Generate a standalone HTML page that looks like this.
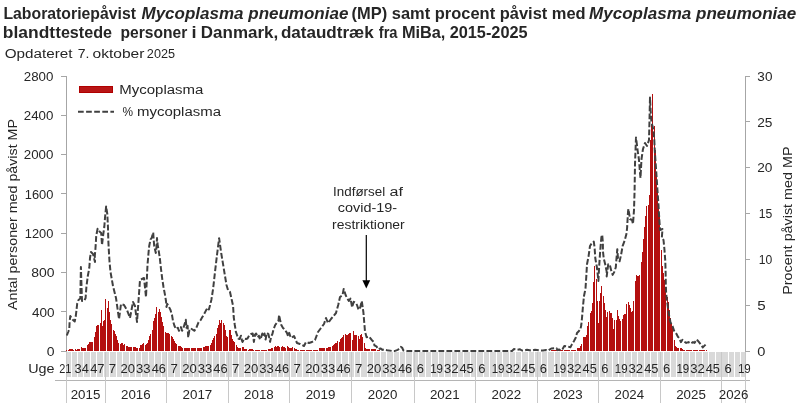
<!DOCTYPE html><html><head><meta charset="utf-8"><title>Mycoplasma pneumoniae</title><style>
html,body{margin:0;padding:0;background:#fff;width:805px;height:410px;overflow:hidden}
svg{display:block}
text{font-family:"Liberation Sans", sans-serif;fill:#262626}
</style></head><body>
<svg width="805" height="410" viewBox="0 0 805 410">
<text x="3.44" y="18.80" font-size="16.5" font-weight="bold" textLength="132.55" lengthAdjust="spacingAndGlyphs">Laboratoriepåvist</text>
<text x="141.50" y="18.80" font-size="16.5" font-weight="bold" font-style="italic" textLength="206.87" lengthAdjust="spacingAndGlyphs">Mycoplasma pneumoniae</text>
<text x="351.58" y="18.80" font-size="16.5" font-weight="bold" textLength="234.10" lengthAdjust="spacingAndGlyphs">(MP) samt procent påvist med</text>
<text x="589.10" y="18.80" font-size="16.5" font-weight="bold" font-style="italic" textLength="207.17" lengthAdjust="spacingAndGlyphs">Mycoplasma pneumoniae</text>
<text x="2.85" y="38.40" font-size="16.5" font-weight="bold" textLength="52.26" lengthAdjust="spacingAndGlyphs">blandt</text>
<text x="55.50" y="38.40" font-size="16.5" font-weight="bold" textLength="56.55" lengthAdjust="spacingAndGlyphs">testede</text>
<text x="120.47" y="38.40" font-size="16.5" font-weight="bold" textLength="66.76" lengthAdjust="spacingAndGlyphs">personer</text>
<text x="191.43" y="38.40" font-size="16.5" font-weight="bold" textLength="5.06" lengthAdjust="spacingAndGlyphs">i</text>
<text x="200.87" y="38.40" font-size="16.5" font-weight="bold" textLength="77.27" lengthAdjust="spacingAndGlyphs">Danmark,</text>
<text x="280.90" y="38.40" font-size="16.5" font-weight="bold" textLength="92.88" lengthAdjust="spacingAndGlyphs">dataudtræk</text>
<text x="378.75" y="38.40" font-size="16.5" font-weight="bold" textLength="18.76" lengthAdjust="spacingAndGlyphs">fra</text>
<text x="401.91" y="38.40" font-size="16.5" font-weight="bold" textLength="43.48" lengthAdjust="spacingAndGlyphs">MiBa,</text>
<text x="449.63" y="38.40" font-size="16.5" font-weight="bold" textLength="78.02" lengthAdjust="spacingAndGlyphs">2015-2025</text>
<text x="4.78" y="57.70" font-size="12" textLength="67.73" lengthAdjust="spacingAndGlyphs">Opdateret</text>
<text x="77.78" y="57.70" font-size="12" textLength="11.70" lengthAdjust="spacingAndGlyphs">7.</text>
<text x="92.55" y="57.70" font-size="12" textLength="51.91" lengthAdjust="spacingAndGlyphs">oktober</text>
<text x="146.86" y="57.70" font-size="12" textLength="28.17" lengthAdjust="spacingAndGlyphs">2025</text>
<g shape-rendering="crispEdges">
<rect x="66" y="76" width="1" height="276" fill="#a6a6a6"/>
<rect x="745" y="76" width="1" height="276" fill="#a6a6a6"/>
<rect x="61" y="76" width="5" height="1" fill="#a6a6a6"/>
<rect x="61" y="115" width="5" height="1" fill="#a6a6a6"/>
<rect x="61" y="154" width="5" height="1" fill="#a6a6a6"/>
<rect x="61" y="193" width="5" height="1" fill="#a6a6a6"/>
<rect x="61" y="233" width="5" height="1" fill="#a6a6a6"/>
<rect x="61" y="272" width="5" height="1" fill="#a6a6a6"/>
<rect x="61" y="311" width="5" height="1" fill="#a6a6a6"/>
<rect x="61" y="351" width="5" height="1" fill="#a6a6a6"/>
<rect x="746" y="76" width="4" height="1" fill="#a6a6a6"/>
<rect x="746" y="121" width="4" height="1" fill="#a6a6a6"/>
<rect x="746" y="167" width="4" height="1" fill="#a6a6a6"/>
<rect x="746" y="213" width="4" height="1" fill="#a6a6a6"/>
<rect x="746" y="259" width="4" height="1" fill="#a6a6a6"/>
<rect x="746" y="305" width="4" height="1" fill="#a6a6a6"/>
<rect x="746" y="351" width="4" height="1" fill="#a6a6a6"/>
</g>
<text x="23.83" y="80.80" font-size="12" textLength="29.59" lengthAdjust="spacingAndGlyphs">2800</text>
<text x="23.83" y="120.09" font-size="12" textLength="29.59" lengthAdjust="spacingAndGlyphs">2400</text>
<text x="23.83" y="159.37" font-size="12" textLength="29.59" lengthAdjust="spacingAndGlyphs">2000</text>
<text x="24.82" y="198.66" font-size="12" textLength="28.58" lengthAdjust="spacingAndGlyphs">1600</text>
<text x="24.82" y="237.94" font-size="12" textLength="28.58" lengthAdjust="spacingAndGlyphs">1200</text>
<text x="31.29" y="277.23" font-size="12" textLength="23.25" lengthAdjust="spacingAndGlyphs">800</text>
<text x="31.99" y="316.51" font-size="12" textLength="22.54" lengthAdjust="spacingAndGlyphs">400</text>
<text x="46.65" y="355.80" font-size="12" textLength="7.79" lengthAdjust="spacingAndGlyphs">0</text>
<text x="757.38" y="80.80" font-size="12" textLength="15.04" lengthAdjust="spacingAndGlyphs">30</text>
<text x="757.21" y="126.63" font-size="12" textLength="15.27" lengthAdjust="spacingAndGlyphs">25</text>
<text x="757.21" y="172.47" font-size="12" textLength="15.22" lengthAdjust="spacingAndGlyphs">20</text>
<text x="758.87" y="218.30" font-size="12" textLength="13.54" lengthAdjust="spacingAndGlyphs">15</text>
<text x="758.88" y="264.13" font-size="12" textLength="13.50" lengthAdjust="spacingAndGlyphs">10</text>
<text x="757.29" y="309.97" font-size="12" textLength="8.45" lengthAdjust="spacingAndGlyphs">5</text>
<text x="757.33" y="355.80" font-size="12" textLength="8.14" lengthAdjust="spacingAndGlyphs">0</text>
<text transform="translate(16.90,309.90) rotate(-90)" x="-0.03" y="0" font-size="12.5" textLength="190.88" lengthAdjust="spacingAndGlyphs">Antal personer med påvist MP</text>
<text transform="translate(791.80,293.60) rotate(-90)" x="-1.18" y="0" font-size="12.5" textLength="148.23" lengthAdjust="spacingAndGlyphs">Procent påvist med MP</text>
<g fill="#b40f0f" shape-rendering="crispEdges">
<rect x="66" y="350.39" width="1" height="0.61"/>
<rect x="68" y="349.85" width="1" height="1.15"/>
<rect x="69" y="349.43" width="1" height="1.57"/>
<rect x="70" y="349.30" width="1" height="1.70"/>
<rect x="71" y="349.30" width="1" height="1.70"/>
<rect x="72" y="349.30" width="1" height="1.70"/>
<rect x="73" y="350.00" width="1" height="1.00"/>
<rect x="75" y="349.42" width="1" height="1.58"/>
<rect x="76" y="349.50" width="1" height="1.50"/>
<rect x="77" y="348.59" width="1" height="2.41"/>
<rect x="78" y="348.50" width="1" height="2.50"/>
<rect x="79" y="348.50" width="1" height="2.50"/>
<rect x="81" y="346.83" width="1" height="4.17"/>
<rect x="82" y="348.10" width="1" height="2.90"/>
<rect x="83" y="348.10" width="1" height="2.90"/>
<rect x="84" y="348.10" width="1" height="2.90"/>
<rect x="85" y="348.10" width="1" height="2.90"/>
<rect x="87" y="344.75" width="1" height="6.25"/>
<rect x="88" y="344.25" width="1" height="6.75"/>
<rect x="89" y="341.66" width="1" height="9.34"/>
<rect x="90" y="342.37" width="1" height="8.63"/>
<rect x="91" y="342.05" width="1" height="8.95"/>
<rect x="92" y="341.50" width="1" height="9.50"/>
<rect x="94" y="337.48" width="1" height="13.52"/>
<rect x="95" y="331.71" width="1" height="19.29"/>
<rect x="96" y="325.57" width="1" height="25.43"/>
<rect x="97" y="325.10" width="1" height="25.90"/>
<rect x="98" y="325.10" width="1" height="25.90"/>
<rect x="100" y="323.35" width="1" height="27.65"/>
<rect x="101" y="310.30" width="1" height="40.70"/>
<rect x="102" y="326.30" width="1" height="24.70"/>
<rect x="103" y="321.40" width="1" height="29.60"/>
<rect x="104" y="320.00" width="1" height="31.00"/>
<rect x="105" y="298.50" width="1" height="52.50"/>
<rect x="107" y="307.57" width="1" height="43.43"/>
<rect x="108" y="301.30" width="1" height="49.70"/>
<rect x="109" y="311.90" width="1" height="39.10"/>
<rect x="110" y="319.53" width="1" height="31.47"/>
<rect x="111" y="324.20" width="1" height="26.80"/>
<rect x="113" y="330.16" width="1" height="20.84"/>
<rect x="114" y="331.18" width="1" height="19.82"/>
<rect x="115" y="334.00" width="1" height="17.00"/>
<rect x="116" y="336.18" width="1" height="14.82"/>
<rect x="117" y="339.90" width="1" height="11.10"/>
<rect x="118" y="343.00" width="1" height="8.00"/>
<rect x="120" y="344.05" width="1" height="6.95"/>
<rect x="121" y="342.76" width="1" height="8.24"/>
<rect x="122" y="343.43" width="1" height="7.57"/>
<rect x="123" y="344.70" width="1" height="6.30"/>
<rect x="124" y="343.95" width="1" height="7.05"/>
<rect x="126" y="346.42" width="1" height="4.58"/>
<rect x="127" y="346.35" width="1" height="4.65"/>
<rect x="128" y="346.53" width="1" height="4.47"/>
<rect x="129" y="347.00" width="1" height="4.00"/>
<rect x="130" y="347.00" width="1" height="4.00"/>
<rect x="131" y="346.80" width="1" height="4.20"/>
<rect x="133" y="346.57" width="1" height="4.43"/>
<rect x="134" y="346.99" width="1" height="4.01"/>
<rect x="135" y="347.48" width="1" height="3.52"/>
<rect x="136" y="348.41" width="1" height="2.59"/>
<rect x="137" y="348.18" width="1" height="2.82"/>
<rect x="139" y="347.72" width="1" height="3.28"/>
<rect x="140" y="345.49" width="1" height="5.51"/>
<rect x="141" y="344.77" width="1" height="6.23"/>
<rect x="142" y="344.14" width="1" height="6.86"/>
<rect x="143" y="343.00" width="1" height="8.00"/>
<rect x="145" y="344.73" width="1" height="6.27"/>
<rect x="146" y="344.30" width="1" height="6.70"/>
<rect x="147" y="343.25" width="1" height="7.75"/>
<rect x="148" y="340.26" width="1" height="10.74"/>
<rect x="149" y="336.47" width="1" height="14.53"/>
<rect x="150" y="334.11" width="1" height="16.89"/>
<rect x="152" y="329.92" width="1" height="21.08"/>
<rect x="153" y="320.64" width="1" height="30.36"/>
<rect x="154" y="317.85" width="1" height="33.15"/>
<rect x="155" y="313.67" width="1" height="37.33"/>
<rect x="156" y="307.33" width="1" height="43.67"/>
<rect x="158" y="311.72" width="1" height="39.28"/>
<rect x="159" y="308.90" width="1" height="42.10"/>
<rect x="160" y="312.28" width="1" height="38.72"/>
<rect x="161" y="316.96" width="1" height="34.04"/>
<rect x="162" y="322.20" width="1" height="28.80"/>
<rect x="163" y="326.07" width="1" height="24.93"/>
<rect x="165" y="331.70" width="1" height="19.30"/>
<rect x="166" y="332.57" width="1" height="18.43"/>
<rect x="167" y="333.00" width="1" height="18.00"/>
<rect x="168" y="333.00" width="1" height="18.00"/>
<rect x="169" y="333.62" width="1" height="17.38"/>
<rect x="171" y="335.97" width="1" height="15.03"/>
<rect x="172" y="337.37" width="1" height="13.63"/>
<rect x="173" y="339.06" width="1" height="11.94"/>
<rect x="174" y="341.00" width="1" height="10.00"/>
<rect x="175" y="343.00" width="1" height="8.00"/>
<rect x="176" y="344.45" width="1" height="6.55"/>
<rect x="178" y="346.11" width="1" height="4.89"/>
<rect x="179" y="346.35" width="1" height="4.65"/>
<rect x="180" y="346.45" width="1" height="4.55"/>
<rect x="181" y="347.25" width="1" height="3.75"/>
<rect x="182" y="348.01" width="1" height="2.99"/>
<rect x="184" y="348.07" width="1" height="2.93"/>
<rect x="185" y="348.10" width="1" height="2.90"/>
<rect x="186" y="348.12" width="1" height="2.88"/>
<rect x="187" y="348.15" width="1" height="2.85"/>
<rect x="188" y="348.18" width="1" height="2.82"/>
<rect x="189" y="348.21" width="1" height="2.79"/>
<rect x="191" y="348.26" width="1" height="2.74"/>
<rect x="192" y="348.29" width="1" height="2.71"/>
<rect x="193" y="348.32" width="1" height="2.68"/>
<rect x="194" y="348.35" width="1" height="2.65"/>
<rect x="195" y="348.38" width="1" height="2.62"/>
<rect x="197" y="348.43" width="1" height="2.57"/>
<rect x="198" y="348.46" width="1" height="2.54"/>
<rect x="199" y="348.49" width="1" height="2.51"/>
<rect x="200" y="348.38" width="1" height="2.62"/>
<rect x="201" y="348.12" width="1" height="2.88"/>
<rect x="203" y="347.40" width="1" height="3.60"/>
<rect x="204" y="346.73" width="1" height="4.27"/>
<rect x="205" y="346.30" width="1" height="4.70"/>
<rect x="206" y="346.10" width="1" height="4.90"/>
<rect x="207" y="345.90" width="1" height="5.10"/>
<rect x="208" y="345.97" width="1" height="5.03"/>
<rect x="210" y="344.67" width="1" height="6.33"/>
<rect x="211" y="342.71" width="1" height="8.29"/>
<rect x="212" y="340.30" width="1" height="10.70"/>
<rect x="213" y="338.02" width="1" height="12.98"/>
<rect x="214" y="336.10" width="1" height="14.90"/>
<rect x="216" y="334.44" width="1" height="16.56"/>
<rect x="217" y="328.19" width="1" height="22.81"/>
<rect x="218" y="324.88" width="1" height="26.12"/>
<rect x="219" y="319.70" width="1" height="31.30"/>
<rect x="220" y="323.30" width="1" height="27.70"/>
<rect x="221" y="319.82" width="1" height="31.18"/>
<rect x="223" y="323.28" width="1" height="27.72"/>
<rect x="224" y="325.01" width="1" height="25.99"/>
<rect x="225" y="330.44" width="1" height="20.56"/>
<rect x="226" y="335.66" width="1" height="15.34"/>
<rect x="227" y="337.10" width="1" height="13.90"/>
<rect x="229" y="330.00" width="1" height="21.00"/>
<rect x="230" y="330.00" width="1" height="21.00"/>
<rect x="231" y="334.60" width="1" height="16.40"/>
<rect x="232" y="338.98" width="1" height="12.02"/>
<rect x="233" y="341.29" width="1" height="9.71"/>
<rect x="234" y="342.46" width="1" height="8.54"/>
<rect x="236" y="344.77" width="1" height="6.23"/>
<rect x="237" y="346.76" width="1" height="4.24"/>
<rect x="238" y="347.80" width="1" height="3.20"/>
<rect x="239" y="347.80" width="1" height="3.20"/>
<rect x="240" y="347.80" width="1" height="3.20"/>
<rect x="242" y="346.80" width="1" height="4.20"/>
<rect x="243" y="346.80" width="1" height="4.20"/>
<rect x="244" y="349.30" width="1" height="1.70"/>
<rect x="245" y="349.30" width="1" height="1.70"/>
<rect x="246" y="349.30" width="1" height="1.70"/>
<rect x="248" y="350.00" width="1" height="1.00"/>
<rect x="249" y="349.30" width="1" height="1.70"/>
<rect x="250" y="349.30" width="1" height="1.70"/>
<rect x="251" y="349.30" width="1" height="1.70"/>
<rect x="252" y="349.30" width="1" height="1.70"/>
<rect x="253" y="349.53" width="1" height="1.47"/>
<rect x="255" y="349.80" width="1" height="1.20"/>
<rect x="256" y="349.80" width="1" height="1.20"/>
<rect x="257" y="349.80" width="1" height="1.20"/>
<rect x="258" y="349.80" width="1" height="1.20"/>
<rect x="259" y="350.00" width="1" height="1.00"/>
<rect x="261" y="349.80" width="1" height="1.20"/>
<rect x="262" y="349.80" width="1" height="1.20"/>
<rect x="263" y="349.80" width="1" height="1.20"/>
<rect x="264" y="349.80" width="1" height="1.20"/>
<rect x="265" y="349.80" width="1" height="1.20"/>
<rect x="266" y="349.68" width="1" height="1.32"/>
<rect x="268" y="349.23" width="1" height="1.77"/>
<rect x="269" y="349.07" width="1" height="1.93"/>
<rect x="270" y="348.75" width="1" height="2.25"/>
<rect x="271" y="348.36" width="1" height="2.64"/>
<rect x="272" y="348.08" width="1" height="2.92"/>
<rect x="274" y="347.05" width="1" height="3.95"/>
<rect x="275" y="346.30" width="1" height="4.70"/>
<rect x="276" y="346.63" width="1" height="4.37"/>
<rect x="277" y="345.80" width="1" height="5.20"/>
<rect x="278" y="346.15" width="1" height="4.85"/>
<rect x="279" y="347.32" width="1" height="3.68"/>
<rect x="281" y="346.63" width="1" height="4.37"/>
<rect x="282" y="346.30" width="1" height="4.70"/>
<rect x="283" y="346.77" width="1" height="4.23"/>
<rect x="284" y="347.20" width="1" height="3.80"/>
<rect x="285" y="347.60" width="1" height="3.40"/>
<rect x="287" y="346.30" width="1" height="4.70"/>
<rect x="288" y="347.30" width="1" height="3.70"/>
<rect x="289" y="347.93" width="1" height="3.07"/>
<rect x="290" y="348.20" width="1" height="2.80"/>
<rect x="291" y="347.64" width="1" height="3.36"/>
<rect x="292" y="347.08" width="1" height="3.92"/>
<rect x="294" y="347.80" width="1" height="3.20"/>
<rect x="295" y="348.60" width="1" height="2.40"/>
<rect x="296" y="349.20" width="1" height="1.80"/>
<rect x="297" y="349.60" width="1" height="1.40"/>
<rect x="298" y="349.80" width="1" height="1.20"/>
<rect x="300" y="349.80" width="1" height="1.20"/>
<rect x="301" y="349.80" width="1" height="1.20"/>
<rect x="302" y="349.80" width="1" height="1.20"/>
<rect x="303" y="349.80" width="1" height="1.20"/>
<rect x="304" y="349.80" width="1" height="1.20"/>
<rect x="306" y="349.78" width="1" height="1.22"/>
<rect x="307" y="349.76" width="1" height="1.24"/>
<rect x="308" y="349.75" width="1" height="1.25"/>
<rect x="309" y="349.73" width="1" height="1.27"/>
<rect x="310" y="349.72" width="1" height="1.28"/>
<rect x="311" y="349.70" width="1" height="1.30"/>
<rect x="313" y="349.67" width="1" height="1.33"/>
<rect x="314" y="349.65" width="1" height="1.35"/>
<rect x="315" y="349.64" width="1" height="1.36"/>
<rect x="316" y="349.62" width="1" height="1.38"/>
<rect x="317" y="349.61" width="1" height="1.39"/>
<rect x="319" y="348.38" width="1" height="2.62"/>
<rect x="320" y="348.34" width="1" height="2.66"/>
<rect x="321" y="348.29" width="1" height="2.71"/>
<rect x="322" y="348.25" width="1" height="2.75"/>
<rect x="323" y="348.21" width="1" height="2.79"/>
<rect x="324" y="348.16" width="1" height="2.84"/>
<rect x="326" y="348.10" width="1" height="2.90"/>
<rect x="327" y="348.10" width="1" height="2.90"/>
<rect x="328" y="347.00" width="1" height="4.00"/>
<rect x="329" y="347.00" width="1" height="4.00"/>
<rect x="330" y="347.00" width="1" height="4.00"/>
<rect x="332" y="346.35" width="1" height="4.65"/>
<rect x="333" y="345.20" width="1" height="5.80"/>
<rect x="334" y="343.80" width="1" height="7.20"/>
<rect x="335" y="343.00" width="1" height="8.00"/>
<rect x="336" y="343.00" width="1" height="8.00"/>
<rect x="337" y="341.10" width="1" height="9.90"/>
<rect x="339" y="342.25" width="1" height="8.75"/>
<rect x="340" y="339.46" width="1" height="11.54"/>
<rect x="341" y="338.39" width="1" height="12.61"/>
<rect x="342" y="336.83" width="1" height="14.17"/>
<rect x="343" y="335.44" width="1" height="15.56"/>
<rect x="345" y="334.10" width="1" height="16.90"/>
<rect x="346" y="334.80" width="1" height="16.20"/>
<rect x="347" y="334.55" width="1" height="16.45"/>
<rect x="348" y="333.76" width="1" height="17.24"/>
<rect x="349" y="333.30" width="1" height="17.70"/>
<rect x="350" y="333.30" width="1" height="17.70"/>
<rect x="352" y="340.23" width="1" height="10.77"/>
<rect x="353" y="330.62" width="1" height="20.38"/>
<rect x="354" y="334.80" width="1" height="16.20"/>
<rect x="355" y="334.80" width="1" height="16.20"/>
<rect x="356" y="334.80" width="1" height="16.20"/>
<rect x="358" y="335.59" width="1" height="15.41"/>
<rect x="359" y="338.71" width="1" height="12.29"/>
<rect x="360" y="335.03" width="1" height="15.97"/>
<rect x="361" y="334.38" width="1" height="16.62"/>
<rect x="362" y="336.67" width="1" height="14.33"/>
<rect x="364" y="342.62" width="1" height="8.38"/>
<rect x="365" y="347.59" width="1" height="3.41"/>
<rect x="366" y="348.87" width="1" height="2.13"/>
<rect x="367" y="349.30" width="1" height="1.70"/>
<rect x="368" y="349.30" width="1" height="1.70"/>
<rect x="369" y="349.30" width="1" height="1.70"/>
<rect x="371" y="349.23" width="1" height="1.77"/>
<rect x="372" y="349.24" width="1" height="1.76"/>
<rect x="373" y="349.31" width="1" height="1.69"/>
<rect x="374" y="349.39" width="1" height="1.61"/>
<rect x="375" y="349.46" width="1" height="1.54"/>
<rect x="377" y="349.91" width="1" height="1.09"/>
<rect x="378" y="350.19" width="1" height="0.81"/>
<rect x="379" y="350.46" width="1" height="0.54"/>
<rect x="380" y="350.60" width="1" height="0.40"/>
<rect x="381" y="350.60" width="1" height="0.40"/>
<rect x="382" y="350.60" width="1" height="0.40"/>
<rect x="384" y="350.60" width="1" height="0.40"/>
<rect x="385" y="350.60" width="1" height="0.40"/>
<rect x="386" y="350.60" width="1" height="0.40"/>
<rect x="387" y="350.60" width="1" height="0.40"/>
<rect x="388" y="350.60" width="1" height="0.40"/>
<rect x="390" y="350.60" width="1" height="0.40"/>
<rect x="391" y="350.60" width="1" height="0.40"/>
<rect x="392" y="350.60" width="1" height="0.40"/>
<rect x="393" y="350.60" width="1" height="0.40"/>
<rect x="394" y="350.60" width="1" height="0.40"/>
<rect x="395" y="350.60" width="1" height="0.40"/>
<rect x="397" y="350.60" width="1" height="0.40"/>
<rect x="398" y="350.60" width="1" height="0.40"/>
<rect x="399" y="350.60" width="1" height="0.40"/>
<rect x="400" y="350.60" width="1" height="0.40"/>
<rect x="401" y="350.60" width="1" height="0.40"/>
<rect x="403" y="350.60" width="1" height="0.40"/>
<rect x="404" y="350.60" width="1" height="0.40"/>
<rect x="405" y="350.60" width="1" height="0.40"/>
<rect x="406" y="350.60" width="1" height="0.40"/>
<rect x="407" y="350.60" width="1" height="0.40"/>
<rect x="408" y="350.60" width="1" height="0.40"/>
<rect x="410" y="350.60" width="1" height="0.40"/>
<rect x="411" y="350.60" width="1" height="0.40"/>
<rect x="412" y="350.60" width="1" height="0.40"/>
<rect x="413" y="350.60" width="1" height="0.40"/>
<rect x="414" y="350.60" width="1" height="0.40"/>
<rect x="416" y="350.60" width="1" height="0.40"/>
<rect x="417" y="350.60" width="1" height="0.40"/>
<rect x="418" y="350.60" width="1" height="0.40"/>
<rect x="419" y="350.60" width="1" height="0.40"/>
<rect x="420" y="350.60" width="1" height="0.40"/>
<rect x="422" y="350.60" width="1" height="0.40"/>
<rect x="423" y="350.60" width="1" height="0.40"/>
<rect x="424" y="350.60" width="1" height="0.40"/>
<rect x="425" y="350.60" width="1" height="0.40"/>
<rect x="426" y="350.60" width="1" height="0.40"/>
<rect x="427" y="350.60" width="1" height="0.40"/>
<rect x="429" y="350.60" width="1" height="0.40"/>
<rect x="430" y="350.60" width="1" height="0.40"/>
<rect x="431" y="350.60" width="1" height="0.40"/>
<rect x="432" y="350.60" width="1" height="0.40"/>
<rect x="433" y="350.60" width="1" height="0.40"/>
<rect x="435" y="350.60" width="1" height="0.40"/>
<rect x="436" y="350.60" width="1" height="0.40"/>
<rect x="437" y="350.60" width="1" height="0.40"/>
<rect x="438" y="350.60" width="1" height="0.40"/>
<rect x="439" y="350.60" width="1" height="0.40"/>
<rect x="440" y="350.60" width="1" height="0.40"/>
<rect x="442" y="350.60" width="1" height="0.40"/>
<rect x="443" y="350.60" width="1" height="0.40"/>
<rect x="444" y="350.60" width="1" height="0.40"/>
<rect x="445" y="350.60" width="1" height="0.40"/>
<rect x="446" y="350.60" width="1" height="0.40"/>
<rect x="448" y="350.60" width="1" height="0.40"/>
<rect x="449" y="350.60" width="1" height="0.40"/>
<rect x="450" y="350.60" width="1" height="0.40"/>
<rect x="451" y="350.60" width="1" height="0.40"/>
<rect x="452" y="350.60" width="1" height="0.40"/>
<rect x="453" y="350.60" width="1" height="0.40"/>
<rect x="455" y="350.60" width="1" height="0.40"/>
<rect x="456" y="350.60" width="1" height="0.40"/>
<rect x="457" y="350.60" width="1" height="0.40"/>
<rect x="458" y="350.60" width="1" height="0.40"/>
<rect x="459" y="350.60" width="1" height="0.40"/>
<rect x="461" y="350.60" width="1" height="0.40"/>
<rect x="462" y="350.60" width="1" height="0.40"/>
<rect x="463" y="350.60" width="1" height="0.40"/>
<rect x="464" y="350.60" width="1" height="0.40"/>
<rect x="465" y="350.60" width="1" height="0.40"/>
<rect x="467" y="350.60" width="1" height="0.40"/>
<rect x="468" y="350.60" width="1" height="0.40"/>
<rect x="469" y="350.60" width="1" height="0.40"/>
<rect x="470" y="350.60" width="1" height="0.40"/>
<rect x="471" y="350.60" width="1" height="0.40"/>
<rect x="472" y="350.60" width="1" height="0.40"/>
<rect x="474" y="350.60" width="1" height="0.40"/>
<rect x="475" y="350.60" width="1" height="0.40"/>
<rect x="476" y="350.60" width="1" height="0.40"/>
<rect x="477" y="350.60" width="1" height="0.40"/>
<rect x="478" y="350.60" width="1" height="0.40"/>
<rect x="480" y="350.60" width="1" height="0.40"/>
<rect x="481" y="350.60" width="1" height="0.40"/>
<rect x="482" y="350.60" width="1" height="0.40"/>
<rect x="483" y="350.60" width="1" height="0.40"/>
<rect x="484" y="350.60" width="1" height="0.40"/>
<rect x="485" y="350.60" width="1" height="0.40"/>
<rect x="487" y="350.60" width="1" height="0.40"/>
<rect x="488" y="350.60" width="1" height="0.40"/>
<rect x="489" y="350.60" width="1" height="0.40"/>
<rect x="490" y="350.60" width="1" height="0.40"/>
<rect x="491" y="350.60" width="1" height="0.40"/>
<rect x="493" y="350.60" width="1" height="0.40"/>
<rect x="494" y="350.60" width="1" height="0.40"/>
<rect x="495" y="350.60" width="1" height="0.40"/>
<rect x="496" y="350.60" width="1" height="0.40"/>
<rect x="497" y="350.60" width="1" height="0.40"/>
<rect x="498" y="350.60" width="1" height="0.40"/>
<rect x="500" y="350.60" width="1" height="0.40"/>
<rect x="501" y="350.60" width="1" height="0.40"/>
<rect x="502" y="350.60" width="1" height="0.40"/>
<rect x="503" y="350.60" width="1" height="0.40"/>
<rect x="504" y="350.60" width="1" height="0.40"/>
<rect x="506" y="350.60" width="1" height="0.40"/>
<rect x="507" y="350.60" width="1" height="0.40"/>
<rect x="508" y="350.60" width="1" height="0.40"/>
<rect x="509" y="350.60" width="1" height="0.40"/>
<rect x="510" y="350.60" width="1" height="0.40"/>
<rect x="511" y="350.60" width="1" height="0.40"/>
<rect x="513" y="350.60" width="1" height="0.40"/>
<rect x="514" y="350.60" width="1" height="0.40"/>
<rect x="515" y="350.60" width="1" height="0.40"/>
<rect x="516" y="350.60" width="1" height="0.40"/>
<rect x="517" y="350.60" width="1" height="0.40"/>
<rect x="519" y="350.60" width="1" height="0.40"/>
<rect x="520" y="350.60" width="1" height="0.40"/>
<rect x="521" y="350.60" width="1" height="0.40"/>
<rect x="522" y="350.60" width="1" height="0.40"/>
<rect x="523" y="350.60" width="1" height="0.40"/>
<rect x="525" y="350.60" width="1" height="0.40"/>
<rect x="526" y="350.60" width="1" height="0.40"/>
<rect x="527" y="350.60" width="1" height="0.40"/>
<rect x="528" y="350.60" width="1" height="0.40"/>
<rect x="529" y="350.60" width="1" height="0.40"/>
<rect x="530" y="350.60" width="1" height="0.40"/>
<rect x="532" y="350.60" width="1" height="0.40"/>
<rect x="533" y="350.60" width="1" height="0.40"/>
<rect x="534" y="350.60" width="1" height="0.40"/>
<rect x="535" y="350.60" width="1" height="0.40"/>
<rect x="536" y="350.60" width="1" height="0.40"/>
<rect x="538" y="350.60" width="1" height="0.40"/>
<rect x="539" y="350.60" width="1" height="0.40"/>
<rect x="540" y="350.60" width="1" height="0.40"/>
<rect x="541" y="350.60" width="1" height="0.40"/>
<rect x="542" y="350.60" width="1" height="0.40"/>
<rect x="543" y="350.60" width="1" height="0.40"/>
<rect x="545" y="350.60" width="1" height="0.40"/>
<rect x="546" y="350.60" width="1" height="0.40"/>
<rect x="547" y="350.60" width="1" height="0.40"/>
<rect x="548" y="350.60" width="1" height="0.40"/>
<rect x="549" y="350.60" width="1" height="0.40"/>
<rect x="551" y="349.80" width="1" height="1.20"/>
<rect x="552" y="349.80" width="1" height="1.20"/>
<rect x="553" y="349.80" width="1" height="1.20"/>
<rect x="554" y="349.80" width="1" height="1.20"/>
<rect x="555" y="349.80" width="1" height="1.20"/>
<rect x="556" y="349.80" width="1" height="1.20"/>
<rect x="558" y="349.80" width="1" height="1.20"/>
<rect x="559" y="349.80" width="1" height="1.20"/>
<rect x="560" y="349.82" width="1" height="1.18"/>
<rect x="561" y="349.88" width="1" height="1.12"/>
<rect x="562" y="349.93" width="1" height="1.07"/>
<rect x="564" y="350.00" width="1" height="1.00"/>
<rect x="565" y="350.00" width="1" height="1.00"/>
<rect x="566" y="350.00" width="1" height="1.00"/>
<rect x="567" y="350.00" width="1" height="1.00"/>
<rect x="568" y="350.00" width="1" height="1.00"/>
<rect x="569" y="350.00" width="1" height="1.00"/>
<rect x="571" y="350.00" width="1" height="1.00"/>
<rect x="572" y="350.00" width="1" height="1.00"/>
<rect x="573" y="350.00" width="1" height="1.00"/>
<rect x="574" y="350.00" width="1" height="1.00"/>
<rect x="575" y="350.00" width="1" height="1.00"/>
<rect x="577" y="347.70" width="1" height="3.30"/>
<rect x="578" y="347.70" width="1" height="3.30"/>
<rect x="579" y="347.70" width="1" height="3.30"/>
<rect x="580" y="345.51" width="1" height="5.49"/>
<rect x="581" y="344.08" width="1" height="6.92"/>
<rect x="583" y="337.20" width="1" height="13.80"/>
<rect x="584" y="337.20" width="1" height="13.80"/>
<rect x="585" y="337.20" width="1" height="13.80"/>
<rect x="586" y="335.00" width="1" height="16.00"/>
<rect x="587" y="326.33" width="1" height="24.67"/>
<rect x="588" y="322.00" width="1" height="29.00"/>
<rect x="590" y="313.00" width="1" height="38.00"/>
<rect x="591" y="310.50" width="1" height="40.50"/>
<rect x="592" y="303.00" width="1" height="48.00"/>
<rect x="593" y="282.00" width="1" height="69.00"/>
<rect x="594" y="266.00" width="1" height="85.00"/>
<rect x="596" y="279.23" width="1" height="71.77"/>
<rect x="597" y="300.80" width="1" height="50.20"/>
<rect x="598" y="323.00" width="1" height="28.00"/>
<rect x="599" y="300.50" width="1" height="50.50"/>
<rect x="600" y="293.25" width="1" height="57.75"/>
<rect x="601" y="286.00" width="1" height="65.00"/>
<rect x="603" y="296.05" width="1" height="54.95"/>
<rect x="604" y="302.74" width="1" height="48.26"/>
<rect x="605" y="310.08" width="1" height="40.92"/>
<rect x="606" y="316.82" width="1" height="34.18"/>
<rect x="607" y="311.80" width="1" height="39.20"/>
<rect x="609" y="311.00" width="1" height="40.00"/>
<rect x="610" y="313.16" width="1" height="37.84"/>
<rect x="611" y="312.75" width="1" height="38.25"/>
<rect x="612" y="317.50" width="1" height="33.50"/>
<rect x="613" y="328.70" width="1" height="22.30"/>
<rect x="614" y="320.03" width="1" height="30.97"/>
<rect x="616" y="319.79" width="1" height="31.21"/>
<rect x="617" y="310.20" width="1" height="40.80"/>
<rect x="618" y="315.53" width="1" height="35.47"/>
<rect x="619" y="318.79" width="1" height="32.21"/>
<rect x="620" y="320.54" width="1" height="30.46"/>
<rect x="622" y="319.17" width="1" height="31.83"/>
<rect x="623" y="314.57" width="1" height="36.43"/>
<rect x="624" y="314.17" width="1" height="36.83"/>
<rect x="625" y="314.25" width="1" height="36.75"/>
<rect x="626" y="304.10" width="1" height="46.90"/>
<rect x="628" y="302.00" width="1" height="49.00"/>
<rect x="629" y="305.09" width="1" height="45.91"/>
<rect x="630" y="308.40" width="1" height="42.60"/>
<rect x="631" y="312.42" width="1" height="38.58"/>
<rect x="632" y="311.00" width="1" height="40.00"/>
<rect x="633" y="301.40" width="1" height="49.60"/>
<rect x="635" y="280.50" width="1" height="70.50"/>
<rect x="636" y="274.50" width="1" height="76.50"/>
<rect x="637" y="275.50" width="1" height="75.50"/>
<rect x="638" y="275.50" width="1" height="75.50"/>
<rect x="639" y="274.50" width="1" height="76.50"/>
<rect x="641" y="262.00" width="1" height="89.00"/>
<rect x="642" y="251.50" width="1" height="99.50"/>
<rect x="643" y="238.50" width="1" height="112.50"/>
<rect x="644" y="226.80" width="1" height="124.20"/>
<rect x="645" y="216.40" width="1" height="134.60"/>
<rect x="646" y="206.00" width="1" height="145.00"/>
<rect x="648" y="205.00" width="1" height="146.00"/>
<rect x="649" y="195.00" width="1" height="156.00"/>
<rect x="650" y="140.00" width="1" height="211.00"/>
<rect x="651" y="125.00" width="1" height="226.00"/>
<rect x="652" y="94.00" width="1" height="257.00"/>
<rect x="654" y="126.00" width="1" height="225.00"/>
<rect x="655" y="150.00" width="1" height="201.00"/>
<rect x="656" y="172.00" width="1" height="179.00"/>
<rect x="657" y="190.00" width="1" height="161.00"/>
<rect x="658" y="205.00" width="1" height="146.00"/>
<rect x="659" y="215.00" width="1" height="136.00"/>
<rect x="661" y="250.00" width="1" height="101.00"/>
<rect x="662" y="266.00" width="1" height="85.00"/>
<rect x="663" y="273.00" width="1" height="78.00"/>
<rect x="664" y="280.00" width="1" height="71.00"/>
<rect x="665" y="288.00" width="1" height="63.00"/>
<rect x="667" y="297.00" width="1" height="54.00"/>
<rect x="668" y="302.00" width="1" height="49.00"/>
<rect x="669" y="310.00" width="1" height="41.00"/>
<rect x="670" y="318.00" width="1" height="33.00"/>
<rect x="671" y="323.00" width="1" height="28.00"/>
<rect x="672" y="328.00" width="1" height="23.00"/>
<rect x="674" y="340.00" width="1" height="11.00"/>
<rect x="675" y="345.50" width="1" height="5.50"/>
<rect x="676" y="347.30" width="1" height="3.70"/>
<rect x="677" y="348.20" width="1" height="2.80"/>
<rect x="678" y="348.20" width="1" height="2.80"/>
<rect x="680" y="348.20" width="1" height="2.80"/>
<rect x="681" y="348.20" width="1" height="2.80"/>
<rect x="682" y="349.12" width="1" height="1.88"/>
<rect x="683" y="349.70" width="1" height="1.30"/>
<rect x="684" y="349.70" width="1" height="1.30"/>
<rect x="686" y="349.70" width="1" height="1.30"/>
<rect x="687" y="349.70" width="1" height="1.30"/>
<rect x="688" y="349.70" width="1" height="1.30"/>
<rect x="689" y="349.70" width="1" height="1.30"/>
<rect x="690" y="349.70" width="1" height="1.30"/>
<rect x="691" y="349.70" width="1" height="1.30"/>
<rect x="693" y="349.70" width="1" height="1.30"/>
<rect x="694" y="349.70" width="1" height="1.30"/>
<rect x="695" y="349.70" width="1" height="1.30"/>
<rect x="696" y="349.70" width="1" height="1.30"/>
<rect x="697" y="349.70" width="1" height="1.30"/>
<rect x="699" y="349.70" width="1" height="1.30"/>
<rect x="700" y="349.70" width="1" height="1.30"/>
<rect x="701" y="349.70" width="1" height="1.30"/>
<rect x="702" y="349.70" width="1" height="1.30"/>
<rect x="703" y="349.70" width="1" height="1.30"/>
<rect x="704" y="349.70" width="1" height="1.30"/>
<rect x="706" y="349.70" width="1" height="1.30"/>
</g>
<polyline points="66.8,335.5 68.2,332.0 69.3,329.0 69.6,322.0 70.3,316.0 72.5,319.5 74.7,321.5 75.8,316.0 76.5,310.0 77.2,303.5 78.5,300.0 80.3,298.5 80.9,267.0 82.0,301.0 84.2,301.0 85.6,298.0 86.4,287.0 87.8,276.0 89.3,268.0 90.0,258.0 91.0,252.0 93.0,254.0 95.0,262.0 94.8,256.0 95.5,248.0 96.0,240.0 96.2,236.0 97.6,228.7 99.5,231.5 101.2,233.0 102.0,245.0 103.3,234.0 104.3,227.0 105.0,218.0 106.1,206.5 107.3,214.0 108.0,228.0 108.3,240.0 108.8,250.0 109.5,261.5 110.5,272.0 113.0,286.0 116.0,298.0 119.0,319.0 121.0,304.0 124.0,305.0 127.0,310.0 130.0,318.0 133.0,302.0 135.0,306.0 137.0,322.0 139.0,294.0 140.0,280.0 144.0,278.0 146.0,297.0 147.5,265.0 148.6,252.0 149.2,246.0 150.5,239.5 151.6,238.0 153.2,232.5 153.7,240.0 154.2,246.0 155.8,253.0 156.5,247.0 157.0,238.0 157.5,244.0 158.6,250.0 159.8,258.0 161.0,269.0 162.4,280.0 163.5,287.0 165.2,296.0 166.0,301.0 166.5,307.0 167.3,304.0 168.5,306.0 170.5,310.0 172.0,315.0 173.0,321.0 174.5,326.0 176.0,329.0 177.8,327.7 179.0,330.8 180.9,327.1 182.1,330.8 183.9,326.5 185.8,319.8 186.4,327.7 187.6,325.9 188.2,337.5 189.4,330.1 190.6,328.3 192.5,329.5 194.3,330.8 196.1,328.3 197.3,325.3 198.6,322.2 200.4,320.4 202.2,317.3 204.0,314.3 205.9,310.6 207.7,307.6 208.9,309.4 210.1,305.1 211.4,299.7 212.3,294.0 213.2,288.0 215.0,272.0 217.0,255.0 219.1,238.2 221.2,253.0 223.3,265.7 225.0,276.0 226.5,285.0 228.0,290.0 230.0,292.0 233.1,306.0 233.7,317.0 234.8,325.0 235.9,331.8 237.0,335.0 238.2,338.5 239.5,339.0 241.0,335.7 242.0,340.8 242.6,341.9 244.3,338.5 246.0,339.0 247.5,338.5 249.4,335.1 251.0,334.0 252.7,333.5 253.9,341.9 255.0,334.6 256.1,333.5 257.8,337.4 258.9,335.7 260.0,339.6 261.1,337.4 262.3,333.5 263.4,336.3 264.5,333.5 265.6,339.6 266.8,332.9 268.4,334.0 270.1,341.9 271.2,336.3 272.4,334.0 273.5,329.5 275.2,325.0 276.8,322.8 278.5,320.6 279.1,315.0 280.2,320.6 281.3,325.0 283.0,327.9 284.7,329.5 286.9,332.9 288.1,336.3 289.2,332.9 290.3,336.3 291.4,338.0 294.0,336.0 297.0,343.0 300.0,344.0 304.0,346.0 306.0,342.0 309.0,343.0 312.0,342.0 315.0,340.0 318.0,332.0 321.0,328.0 324.0,324.0 326.0,318.0 328.0,323.0 331.0,319.0 333.5,316.0 336.0,313.0 338.4,304.2 340.0,297.0 342.5,295.3 343.7,288.9 345.7,295.3 347.3,298.5 348.9,301.0 350.5,298.5 352.1,307.4 353.7,301.8 355.4,302.6 357.0,305.0 358.6,309.8 360.2,307.4 361.8,301.0 363.4,312.3 364.2,322.0 365.0,331.6 366.6,337.3 369.0,336.5 371.5,339.7 373.9,342.1 374.4,345.4 376.4,346.4 378.4,349.4 380.4,348.4 382.4,349.9 384.4,349.4 387.0,350.2 391.8,350.9 395.0,350.9 397.8,349.9 400.8,346.9 402.3,347.9 403.3,350.4 406.8,350.9 512.0,350.9 514.0,349.0 517.0,349.8 520.0,349.3 522.0,350.5 525.0,350.2 527.0,349.8 531.0,350.5 535.0,349.8 539.0,350.3 543.0,350.5 546.0,350.0 548.0,350.5 551.3,348.5 556.5,348.2 557.4,350.2 559.0,349.5 560.9,350.5 562.6,349.0 564.3,346.0 567.8,346.5 570.4,347.2 571.8,344.6 574.0,341.0 575.7,337.7 577.0,333.0 579.0,331.0 580.5,329.0 581.3,325.0 582.0,318.0 583.0,306.0 584.0,296.0 585.5,288.5 586.3,276.4 587.0,264.3 588.5,256.7 590.0,246.0 592.3,242.4 593.8,241.6 594.6,247.7 595.3,258.3 596.9,267.3 597.6,273.4 598.4,281.0 599.1,267.3 599.9,255.2 600.6,246.2 601.4,237.0 602.2,234.8 602.9,243.1 602.9,250.7 603.7,258.3 605.2,264.3 606.7,271.9 606.7,276.4 608.2,264.3 609.7,264.3 611.2,270.4 612.7,274.9 614.3,271.9 615.8,267.3 616.5,258.3 617.3,249.2 618.0,258.3 619.6,261.3 621.0,255.2 622.6,246.2 624.8,240.1 626.4,234.0 627.1,228.0 628.0,212.0 628.4,209.0 630.0,219.0 632.0,220.0 633.0,224.0 634.0,210.0 634.6,190.0 635.0,164.0 636.0,137.5 637.7,151.0 639.0,160.0 640.0,173.0 640.5,178.0 641.5,159.0 643.0,149.0 645.0,143.0 647.0,146.0 649.0,140.0 649.5,120.0 650.0,97.5 650.6,110.0 651.4,122.0 652.8,127.0 653.6,132.0 654.3,140.0 654.8,151.0 655.7,164.0 656.6,177.0 657.5,191.0 658.5,205.0 659.2,217.5 660.0,230.0 662.5,229.0 661.8,238.0 663.5,240.0 664.4,249.0 665.3,261.0 665.6,272.0 665.8,284.0 666.1,292.0 666.6,298.0 667.2,302.0 668.0,308.0 668.7,313.0 669.5,318.0 670.5,322.0 671.5,324.5 672.6,326.3 674.1,330.8 676.4,333.8 677.9,336.8 679.4,338.3 680.9,342.1 682.4,339.8 683.9,341.4 686.2,342.9 688.5,342.1 690.7,343.6 693.0,342.1 694.5,342.9 696.8,339.4 699.0,342.1 701.3,345.1 702.8,347.4 704.3,345.9 706.6,343.6" fill="none" stroke="#404040" stroke-width="2" stroke-dasharray="5.8 2.2" stroke-linejoin="round"/>
<rect x="79.5" y="86.5" width="33" height="6" fill="#b91616" stroke="#b00000" stroke-width="1"/>
<line x1="78" y1="111.7" x2="114" y2="111.7" stroke="#404040" stroke-width="2" stroke-dasharray="5.7 2.4"/>
<text x="119.27" y="93.70" font-size="12" textLength="84.13" lengthAdjust="spacingAndGlyphs">Mycoplasma</text>
<text x="122.38" y="115.60" font-size="12" textLength="10.55" lengthAdjust="spacingAndGlyphs">%</text>
<text x="137.01" y="115.60" font-size="12" textLength="83.99" lengthAdjust="spacingAndGlyphs">mycoplasma</text>
<text x="333.06" y="195.70" font-size="12.5" textLength="52.13" lengthAdjust="spacingAndGlyphs">Indførsel</text>
<text x="389.51" y="195.70" font-size="12.5" textLength="13.46" lengthAdjust="spacingAndGlyphs">af</text>
<text x="337.89" y="212.40" font-size="12.5" textLength="59.25" lengthAdjust="spacingAndGlyphs">covid-19-</text>
<text x="332.08" y="228.80" font-size="12.5" textLength="72.65" lengthAdjust="spacingAndGlyphs">restriktioner</text>
<line x1="366.3" y1="235" x2="366.3" y2="281" stroke="#000" stroke-width="1.2"/>
<path d="M362.4,280.3 L370.2,280.3 L366.3,288.4 Z" fill="#000"/>
<g shape-rendering="crispEdges">
<rect x="66" y="352" width="1" height="25" fill="#d9d9d9"/>
<rect x="67" y="352" width="1" height="25" fill="#d9d9d9"/>
<rect x="68" y="352" width="1" height="25" fill="#d9d9d9"/>
<rect x="69" y="352" width="1" height="25" fill="#d9d9d9"/>
<rect x="70" y="352" width="1" height="25" fill="#d9d9d9"/>
<rect x="72" y="352" width="1" height="25" fill="#d9d9d9"/>
<rect x="73" y="352" width="1" height="25" fill="#d9d9d9"/>
<rect x="74" y="352" width="1" height="25" fill="#d9d9d9"/>
<rect x="75" y="352" width="1" height="25" fill="#d9d9d9"/>
<rect x="76" y="352" width="1" height="25" fill="#d9d9d9"/>
<rect x="78" y="352" width="1" height="25" fill="#d9d9d9"/>
<rect x="79" y="352" width="1" height="25" fill="#d9d9d9"/>
<rect x="80" y="352" width="1" height="25" fill="#d9d9d9"/>
<rect x="81" y="352" width="1" height="25" fill="#d9d9d9"/>
<rect x="82" y="352" width="1" height="25" fill="#d9d9d9"/>
<rect x="84" y="352" width="1" height="25" fill="#d9d9d9"/>
<rect x="85" y="352" width="1" height="25" fill="#d9d9d9"/>
<rect x="86" y="352" width="1" height="25" fill="#d9d9d9"/>
<rect x="87" y="352" width="1" height="25" fill="#d9d9d9"/>
<rect x="88" y="352" width="1" height="25" fill="#d9d9d9"/>
<rect x="89" y="352" width="1" height="25" fill="#d9d9d9"/>
<rect x="91" y="352" width="1" height="25" fill="#d9d9d9"/>
<rect x="92" y="352" width="1" height="25" fill="#d9d9d9"/>
<rect x="93" y="352" width="1" height="25" fill="#d9d9d9"/>
<rect x="94" y="352" width="1" height="25" fill="#d9d9d9"/>
<rect x="95" y="352" width="1" height="25" fill="#d9d9d9"/>
<rect x="97" y="352" width="1" height="25" fill="#d9d9d9"/>
<rect x="98" y="352" width="1" height="25" fill="#d9d9d9"/>
<rect x="99" y="352" width="1" height="25" fill="#d9d9d9"/>
<rect x="100" y="352" width="1" height="25" fill="#d9d9d9"/>
<rect x="101" y="352" width="1" height="25" fill="#d9d9d9"/>
<rect x="102" y="352" width="1" height="25" fill="#d9d9d9"/>
<rect x="104" y="352" width="1" height="25" fill="#d9d9d9"/>
<rect x="105" y="352" width="1" height="25" fill="#d9d9d9"/>
<rect x="106" y="352" width="1" height="25" fill="#d9d9d9"/>
<rect x="107" y="352" width="1" height="25" fill="#d9d9d9"/>
<rect x="108" y="352" width="1" height="25" fill="#d9d9d9"/>
<rect x="110" y="352" width="1" height="25" fill="#d9d9d9"/>
<rect x="111" y="352" width="1" height="25" fill="#d9d9d9"/>
<rect x="112" y="352" width="1" height="25" fill="#d9d9d9"/>
<rect x="113" y="352" width="1" height="25" fill="#d9d9d9"/>
<rect x="114" y="352" width="1" height="25" fill="#d9d9d9"/>
<rect x="115" y="352" width="1" height="25" fill="#d9d9d9"/>
<rect x="117" y="352" width="1" height="25" fill="#d9d9d9"/>
<rect x="118" y="352" width="1" height="25" fill="#d9d9d9"/>
<rect x="119" y="352" width="1" height="25" fill="#d9d9d9"/>
<rect x="120" y="352" width="1" height="25" fill="#d9d9d9"/>
<rect x="121" y="352" width="1" height="25" fill="#d9d9d9"/>
<rect x="123" y="352" width="1" height="25" fill="#d9d9d9"/>
<rect x="124" y="352" width="1" height="25" fill="#d9d9d9"/>
<rect x="125" y="352" width="1" height="25" fill="#d9d9d9"/>
<rect x="126" y="352" width="1" height="25" fill="#d9d9d9"/>
<rect x="127" y="352" width="1" height="25" fill="#d9d9d9"/>
<rect x="128" y="352" width="1" height="25" fill="#d9d9d9"/>
<rect x="130" y="352" width="1" height="25" fill="#d9d9d9"/>
<rect x="131" y="352" width="1" height="25" fill="#d9d9d9"/>
<rect x="132" y="352" width="1" height="25" fill="#d9d9d9"/>
<rect x="133" y="352" width="1" height="25" fill="#d9d9d9"/>
<rect x="134" y="352" width="1" height="25" fill="#d9d9d9"/>
<rect x="136" y="352" width="1" height="25" fill="#d9d9d9"/>
<rect x="137" y="352" width="1" height="25" fill="#d9d9d9"/>
<rect x="138" y="352" width="1" height="25" fill="#d9d9d9"/>
<rect x="139" y="352" width="1" height="25" fill="#d9d9d9"/>
<rect x="140" y="352" width="1" height="25" fill="#d9d9d9"/>
<rect x="142" y="352" width="1" height="25" fill="#d9d9d9"/>
<rect x="143" y="352" width="1" height="25" fill="#d9d9d9"/>
<rect x="144" y="352" width="1" height="25" fill="#d9d9d9"/>
<rect x="145" y="352" width="1" height="25" fill="#d9d9d9"/>
<rect x="146" y="352" width="1" height="25" fill="#d9d9d9"/>
<rect x="147" y="352" width="1" height="25" fill="#d9d9d9"/>
<rect x="149" y="352" width="1" height="25" fill="#d9d9d9"/>
<rect x="150" y="352" width="1" height="25" fill="#d9d9d9"/>
<rect x="151" y="352" width="1" height="25" fill="#d9d9d9"/>
<rect x="152" y="352" width="1" height="25" fill="#d9d9d9"/>
<rect x="153" y="352" width="1" height="25" fill="#d9d9d9"/>
<rect x="155" y="352" width="1" height="25" fill="#d9d9d9"/>
<rect x="156" y="352" width="1" height="25" fill="#d9d9d9"/>
<rect x="157" y="352" width="1" height="25" fill="#d9d9d9"/>
<rect x="158" y="352" width="1" height="25" fill="#d9d9d9"/>
<rect x="159" y="352" width="1" height="25" fill="#d9d9d9"/>
<rect x="160" y="352" width="1" height="25" fill="#d9d9d9"/>
<rect x="162" y="352" width="1" height="25" fill="#d9d9d9"/>
<rect x="163" y="352" width="1" height="25" fill="#d9d9d9"/>
<rect x="164" y="352" width="1" height="25" fill="#d9d9d9"/>
<rect x="165" y="352" width="1" height="25" fill="#d9d9d9"/>
<rect x="166" y="352" width="1" height="25" fill="#d9d9d9"/>
<rect x="168" y="352" width="1" height="25" fill="#d9d9d9"/>
<rect x="169" y="352" width="1" height="25" fill="#d9d9d9"/>
<rect x="170" y="352" width="1" height="25" fill="#d9d9d9"/>
<rect x="171" y="352" width="1" height="25" fill="#d9d9d9"/>
<rect x="172" y="352" width="1" height="25" fill="#d9d9d9"/>
<rect x="173" y="352" width="1" height="25" fill="#d9d9d9"/>
<rect x="175" y="352" width="1" height="25" fill="#d9d9d9"/>
<rect x="176" y="352" width="1" height="25" fill="#d9d9d9"/>
<rect x="177" y="352" width="1" height="25" fill="#d9d9d9"/>
<rect x="178" y="352" width="1" height="25" fill="#d9d9d9"/>
<rect x="179" y="352" width="1" height="25" fill="#d9d9d9"/>
<rect x="181" y="352" width="1" height="25" fill="#d9d9d9"/>
<rect x="182" y="352" width="1" height="25" fill="#d9d9d9"/>
<rect x="183" y="352" width="1" height="25" fill="#d9d9d9"/>
<rect x="184" y="352" width="1" height="25" fill="#d9d9d9"/>
<rect x="185" y="352" width="1" height="25" fill="#d9d9d9"/>
<rect x="186" y="352" width="1" height="25" fill="#d9d9d9"/>
<rect x="188" y="352" width="1" height="25" fill="#d9d9d9"/>
<rect x="189" y="352" width="1" height="25" fill="#d9d9d9"/>
<rect x="190" y="352" width="1" height="25" fill="#d9d9d9"/>
<rect x="191" y="352" width="1" height="25" fill="#d9d9d9"/>
<rect x="192" y="352" width="1" height="25" fill="#d9d9d9"/>
<rect x="194" y="352" width="1" height="25" fill="#d9d9d9"/>
<rect x="195" y="352" width="1" height="25" fill="#d9d9d9"/>
<rect x="196" y="352" width="1" height="25" fill="#d9d9d9"/>
<rect x="197" y="352" width="1" height="25" fill="#d9d9d9"/>
<rect x="198" y="352" width="1" height="25" fill="#d9d9d9"/>
<rect x="200" y="352" width="1" height="25" fill="#d9d9d9"/>
<rect x="201" y="352" width="1" height="25" fill="#d9d9d9"/>
<rect x="202" y="352" width="1" height="25" fill="#d9d9d9"/>
<rect x="203" y="352" width="1" height="25" fill="#d9d9d9"/>
<rect x="204" y="352" width="1" height="25" fill="#d9d9d9"/>
<rect x="205" y="352" width="1" height="25" fill="#d9d9d9"/>
<rect x="207" y="352" width="1" height="25" fill="#d9d9d9"/>
<rect x="208" y="352" width="1" height="25" fill="#d9d9d9"/>
<rect x="209" y="352" width="1" height="25" fill="#d9d9d9"/>
<rect x="210" y="352" width="1" height="25" fill="#d9d9d9"/>
<rect x="211" y="352" width="1" height="25" fill="#d9d9d9"/>
<rect x="213" y="352" width="1" height="25" fill="#d9d9d9"/>
<rect x="214" y="352" width="1" height="25" fill="#d9d9d9"/>
<rect x="215" y="352" width="1" height="25" fill="#d9d9d9"/>
<rect x="216" y="352" width="1" height="25" fill="#d9d9d9"/>
<rect x="217" y="352" width="1" height="25" fill="#d9d9d9"/>
<rect x="218" y="352" width="1" height="25" fill="#d9d9d9"/>
<rect x="220" y="352" width="1" height="25" fill="#d9d9d9"/>
<rect x="221" y="352" width="1" height="25" fill="#d9d9d9"/>
<rect x="222" y="352" width="1" height="25" fill="#d9d9d9"/>
<rect x="223" y="352" width="1" height="25" fill="#d9d9d9"/>
<rect x="224" y="352" width="1" height="25" fill="#d9d9d9"/>
<rect x="226" y="352" width="1" height="25" fill="#d9d9d9"/>
<rect x="227" y="352" width="1" height="25" fill="#d9d9d9"/>
<rect x="228" y="352" width="1" height="25" fill="#d9d9d9"/>
<rect x="229" y="352" width="1" height="25" fill="#d9d9d9"/>
<rect x="230" y="352" width="1" height="25" fill="#d9d9d9"/>
<rect x="231" y="352" width="1" height="25" fill="#d9d9d9"/>
<rect x="233" y="352" width="1" height="25" fill="#d9d9d9"/>
<rect x="234" y="352" width="1" height="25" fill="#d9d9d9"/>
<rect x="235" y="352" width="1" height="25" fill="#d9d9d9"/>
<rect x="236" y="352" width="1" height="25" fill="#d9d9d9"/>
<rect x="237" y="352" width="1" height="25" fill="#d9d9d9"/>
<rect x="239" y="352" width="1" height="25" fill="#d9d9d9"/>
<rect x="240" y="352" width="1" height="25" fill="#d9d9d9"/>
<rect x="241" y="352" width="1" height="25" fill="#d9d9d9"/>
<rect x="242" y="352" width="1" height="25" fill="#d9d9d9"/>
<rect x="243" y="352" width="1" height="25" fill="#d9d9d9"/>
<rect x="245" y="352" width="1" height="25" fill="#d9d9d9"/>
<rect x="246" y="352" width="1" height="25" fill="#d9d9d9"/>
<rect x="247" y="352" width="1" height="25" fill="#d9d9d9"/>
<rect x="248" y="352" width="1" height="25" fill="#d9d9d9"/>
<rect x="249" y="352" width="1" height="25" fill="#d9d9d9"/>
<rect x="250" y="352" width="1" height="25" fill="#d9d9d9"/>
<rect x="252" y="352" width="1" height="25" fill="#d9d9d9"/>
<rect x="253" y="352" width="1" height="25" fill="#d9d9d9"/>
<rect x="254" y="352" width="1" height="25" fill="#d9d9d9"/>
<rect x="255" y="352" width="1" height="25" fill="#d9d9d9"/>
<rect x="256" y="352" width="1" height="25" fill="#d9d9d9"/>
<rect x="258" y="352" width="1" height="25" fill="#d9d9d9"/>
<rect x="259" y="352" width="1" height="25" fill="#d9d9d9"/>
<rect x="260" y="352" width="1" height="25" fill="#d9d9d9"/>
<rect x="261" y="352" width="1" height="25" fill="#d9d9d9"/>
<rect x="262" y="352" width="1" height="25" fill="#d9d9d9"/>
<rect x="263" y="352" width="1" height="25" fill="#d9d9d9"/>
<rect x="265" y="352" width="1" height="25" fill="#d9d9d9"/>
<rect x="266" y="352" width="1" height="25" fill="#d9d9d9"/>
<rect x="267" y="352" width="1" height="25" fill="#d9d9d9"/>
<rect x="268" y="352" width="1" height="25" fill="#d9d9d9"/>
<rect x="269" y="352" width="1" height="25" fill="#d9d9d9"/>
<rect x="271" y="352" width="1" height="25" fill="#d9d9d9"/>
<rect x="272" y="352" width="1" height="25" fill="#d9d9d9"/>
<rect x="273" y="352" width="1" height="25" fill="#d9d9d9"/>
<rect x="274" y="352" width="1" height="25" fill="#d9d9d9"/>
<rect x="275" y="352" width="1" height="25" fill="#d9d9d9"/>
<rect x="276" y="352" width="1" height="25" fill="#d9d9d9"/>
<rect x="278" y="352" width="1" height="25" fill="#d9d9d9"/>
<rect x="279" y="352" width="1" height="25" fill="#d9d9d9"/>
<rect x="280" y="352" width="1" height="25" fill="#d9d9d9"/>
<rect x="281" y="352" width="1" height="25" fill="#d9d9d9"/>
<rect x="282" y="352" width="1" height="25" fill="#d9d9d9"/>
<rect x="284" y="352" width="1" height="25" fill="#d9d9d9"/>
<rect x="285" y="352" width="1" height="25" fill="#d9d9d9"/>
<rect x="286" y="352" width="1" height="25" fill="#d9d9d9"/>
<rect x="287" y="352" width="1" height="25" fill="#d9d9d9"/>
<rect x="288" y="352" width="1" height="25" fill="#d9d9d9"/>
<rect x="289" y="352" width="1" height="25" fill="#d9d9d9"/>
<rect x="291" y="352" width="1" height="25" fill="#d9d9d9"/>
<rect x="292" y="352" width="1" height="25" fill="#d9d9d9"/>
<rect x="293" y="352" width="1" height="25" fill="#d9d9d9"/>
<rect x="294" y="352" width="1" height="25" fill="#d9d9d9"/>
<rect x="295" y="352" width="1" height="25" fill="#d9d9d9"/>
<rect x="297" y="352" width="1" height="25" fill="#d9d9d9"/>
<rect x="298" y="352" width="1" height="25" fill="#d9d9d9"/>
<rect x="299" y="352" width="1" height="25" fill="#d9d9d9"/>
<rect x="300" y="352" width="1" height="25" fill="#d9d9d9"/>
<rect x="301" y="352" width="1" height="25" fill="#d9d9d9"/>
<rect x="303" y="352" width="1" height="25" fill="#d9d9d9"/>
<rect x="304" y="352" width="1" height="25" fill="#d9d9d9"/>
<rect x="305" y="352" width="1" height="25" fill="#d9d9d9"/>
<rect x="306" y="352" width="1" height="25" fill="#d9d9d9"/>
<rect x="307" y="352" width="1" height="25" fill="#d9d9d9"/>
<rect x="308" y="352" width="1" height="25" fill="#d9d9d9"/>
<rect x="310" y="352" width="1" height="25" fill="#d9d9d9"/>
<rect x="311" y="352" width="1" height="25" fill="#d9d9d9"/>
<rect x="312" y="352" width="1" height="25" fill="#d9d9d9"/>
<rect x="313" y="352" width="1" height="25" fill="#d9d9d9"/>
<rect x="314" y="352" width="1" height="25" fill="#d9d9d9"/>
<rect x="316" y="352" width="1" height="25" fill="#d9d9d9"/>
<rect x="317" y="352" width="1" height="25" fill="#d9d9d9"/>
<rect x="318" y="352" width="1" height="25" fill="#d9d9d9"/>
<rect x="319" y="352" width="1" height="25" fill="#d9d9d9"/>
<rect x="320" y="352" width="1" height="25" fill="#d9d9d9"/>
<rect x="321" y="352" width="1" height="25" fill="#d9d9d9"/>
<rect x="323" y="352" width="1" height="25" fill="#d9d9d9"/>
<rect x="324" y="352" width="1" height="25" fill="#d9d9d9"/>
<rect x="325" y="352" width="1" height="25" fill="#d9d9d9"/>
<rect x="326" y="352" width="1" height="25" fill="#d9d9d9"/>
<rect x="327" y="352" width="1" height="25" fill="#d9d9d9"/>
<rect x="329" y="352" width="1" height="25" fill="#d9d9d9"/>
<rect x="330" y="352" width="1" height="25" fill="#d9d9d9"/>
<rect x="331" y="352" width="1" height="25" fill="#d9d9d9"/>
<rect x="332" y="352" width="1" height="25" fill="#d9d9d9"/>
<rect x="333" y="352" width="1" height="25" fill="#d9d9d9"/>
<rect x="334" y="352" width="1" height="25" fill="#d9d9d9"/>
<rect x="336" y="352" width="1" height="25" fill="#d9d9d9"/>
<rect x="337" y="352" width="1" height="25" fill="#d9d9d9"/>
<rect x="338" y="352" width="1" height="25" fill="#d9d9d9"/>
<rect x="339" y="352" width="1" height="25" fill="#d9d9d9"/>
<rect x="340" y="352" width="1" height="25" fill="#d9d9d9"/>
<rect x="342" y="352" width="1" height="25" fill="#d9d9d9"/>
<rect x="343" y="352" width="1" height="25" fill="#d9d9d9"/>
<rect x="344" y="352" width="1" height="25" fill="#d9d9d9"/>
<rect x="345" y="352" width="1" height="25" fill="#d9d9d9"/>
<rect x="346" y="352" width="1" height="25" fill="#d9d9d9"/>
<rect x="347" y="352" width="1" height="25" fill="#d9d9d9"/>
<rect x="349" y="352" width="1" height="25" fill="#d9d9d9"/>
<rect x="350" y="352" width="1" height="25" fill="#d9d9d9"/>
<rect x="351" y="352" width="1" height="25" fill="#d9d9d9"/>
<rect x="352" y="352" width="1" height="25" fill="#d9d9d9"/>
<rect x="353" y="352" width="1" height="25" fill="#d9d9d9"/>
<rect x="355" y="352" width="1" height="25" fill="#d9d9d9"/>
<rect x="356" y="352" width="1" height="25" fill="#d9d9d9"/>
<rect x="357" y="352" width="1" height="25" fill="#d9d9d9"/>
<rect x="358" y="352" width="1" height="25" fill="#d9d9d9"/>
<rect x="359" y="352" width="1" height="25" fill="#d9d9d9"/>
<rect x="361" y="352" width="1" height="25" fill="#d9d9d9"/>
<rect x="362" y="352" width="1" height="25" fill="#d9d9d9"/>
<rect x="363" y="352" width="1" height="25" fill="#d9d9d9"/>
<rect x="364" y="352" width="1" height="25" fill="#d9d9d9"/>
<rect x="365" y="352" width="1" height="25" fill="#d9d9d9"/>
<rect x="366" y="352" width="1" height="25" fill="#d9d9d9"/>
<rect x="368" y="352" width="1" height="25" fill="#d9d9d9"/>
<rect x="369" y="352" width="1" height="25" fill="#d9d9d9"/>
<rect x="370" y="352" width="1" height="25" fill="#d9d9d9"/>
<rect x="371" y="352" width="1" height="25" fill="#d9d9d9"/>
<rect x="372" y="352" width="1" height="25" fill="#d9d9d9"/>
<rect x="374" y="352" width="1" height="25" fill="#d9d9d9"/>
<rect x="375" y="352" width="1" height="25" fill="#d9d9d9"/>
<rect x="376" y="352" width="1" height="25" fill="#d9d9d9"/>
<rect x="377" y="352" width="1" height="25" fill="#d9d9d9"/>
<rect x="378" y="352" width="1" height="25" fill="#d9d9d9"/>
<rect x="379" y="352" width="1" height="25" fill="#d9d9d9"/>
<rect x="381" y="352" width="1" height="25" fill="#d9d9d9"/>
<rect x="382" y="352" width="1" height="25" fill="#d9d9d9"/>
<rect x="383" y="352" width="1" height="25" fill="#d9d9d9"/>
<rect x="384" y="352" width="1" height="25" fill="#d9d9d9"/>
<rect x="385" y="352" width="1" height="25" fill="#d9d9d9"/>
<rect x="387" y="352" width="1" height="25" fill="#d9d9d9"/>
<rect x="388" y="352" width="1" height="25" fill="#d9d9d9"/>
<rect x="389" y="352" width="1" height="25" fill="#d9d9d9"/>
<rect x="390" y="352" width="1" height="25" fill="#d9d9d9"/>
<rect x="391" y="352" width="1" height="25" fill="#d9d9d9"/>
<rect x="392" y="352" width="1" height="25" fill="#d9d9d9"/>
<rect x="394" y="352" width="1" height="25" fill="#d9d9d9"/>
<rect x="395" y="352" width="1" height="25" fill="#d9d9d9"/>
<rect x="396" y="352" width="1" height="25" fill="#d9d9d9"/>
<rect x="397" y="352" width="1" height="25" fill="#d9d9d9"/>
<rect x="398" y="352" width="1" height="25" fill="#d9d9d9"/>
<rect x="400" y="352" width="1" height="25" fill="#d9d9d9"/>
<rect x="401" y="352" width="1" height="25" fill="#d9d9d9"/>
<rect x="402" y="352" width="1" height="25" fill="#d9d9d9"/>
<rect x="403" y="352" width="1" height="25" fill="#d9d9d9"/>
<rect x="404" y="352" width="1" height="25" fill="#d9d9d9"/>
<rect x="406" y="352" width="1" height="25" fill="#d9d9d9"/>
<rect x="407" y="352" width="1" height="25" fill="#d9d9d9"/>
<rect x="408" y="352" width="1" height="25" fill="#d9d9d9"/>
<rect x="409" y="352" width="1" height="25" fill="#d9d9d9"/>
<rect x="410" y="352" width="1" height="25" fill="#d9d9d9"/>
<rect x="411" y="352" width="1" height="25" fill="#d9d9d9"/>
<rect x="413" y="352" width="1" height="25" fill="#d9d9d9"/>
<rect x="414" y="352" width="1" height="25" fill="#d9d9d9"/>
<rect x="415" y="352" width="1" height="25" fill="#d9d9d9"/>
<rect x="416" y="352" width="1" height="25" fill="#d9d9d9"/>
<rect x="417" y="352" width="1" height="25" fill="#d9d9d9"/>
<rect x="419" y="352" width="1" height="25" fill="#d9d9d9"/>
<rect x="420" y="352" width="1" height="25" fill="#d9d9d9"/>
<rect x="421" y="352" width="1" height="25" fill="#d9d9d9"/>
<rect x="422" y="352" width="1" height="25" fill="#d9d9d9"/>
<rect x="423" y="352" width="1" height="25" fill="#d9d9d9"/>
<rect x="424" y="352" width="1" height="25" fill="#d9d9d9"/>
<rect x="426" y="352" width="1" height="25" fill="#d9d9d9"/>
<rect x="427" y="352" width="1" height="25" fill="#d9d9d9"/>
<rect x="428" y="352" width="1" height="25" fill="#d9d9d9"/>
<rect x="429" y="352" width="1" height="25" fill="#d9d9d9"/>
<rect x="430" y="352" width="1" height="25" fill="#d9d9d9"/>
<rect x="432" y="352" width="1" height="25" fill="#d9d9d9"/>
<rect x="433" y="352" width="1" height="25" fill="#d9d9d9"/>
<rect x="434" y="352" width="1" height="25" fill="#d9d9d9"/>
<rect x="435" y="352" width="1" height="25" fill="#d9d9d9"/>
<rect x="436" y="352" width="1" height="25" fill="#d9d9d9"/>
<rect x="437" y="352" width="1" height="25" fill="#d9d9d9"/>
<rect x="439" y="352" width="1" height="25" fill="#d9d9d9"/>
<rect x="440" y="352" width="1" height="25" fill="#d9d9d9"/>
<rect x="441" y="352" width="1" height="25" fill="#d9d9d9"/>
<rect x="442" y="352" width="1" height="25" fill="#d9d9d9"/>
<rect x="443" y="352" width="1" height="25" fill="#d9d9d9"/>
<rect x="445" y="352" width="1" height="25" fill="#d9d9d9"/>
<rect x="446" y="352" width="1" height="25" fill="#d9d9d9"/>
<rect x="447" y="352" width="1" height="25" fill="#d9d9d9"/>
<rect x="448" y="352" width="1" height="25" fill="#d9d9d9"/>
<rect x="449" y="352" width="1" height="25" fill="#d9d9d9"/>
<rect x="450" y="352" width="1" height="25" fill="#d9d9d9"/>
<rect x="452" y="352" width="1" height="25" fill="#d9d9d9"/>
<rect x="453" y="352" width="1" height="25" fill="#d9d9d9"/>
<rect x="454" y="352" width="1" height="25" fill="#d9d9d9"/>
<rect x="455" y="352" width="1" height="25" fill="#d9d9d9"/>
<rect x="456" y="352" width="1" height="25" fill="#d9d9d9"/>
<rect x="458" y="352" width="1" height="25" fill="#d9d9d9"/>
<rect x="459" y="352" width="1" height="25" fill="#d9d9d9"/>
<rect x="460" y="352" width="1" height="25" fill="#d9d9d9"/>
<rect x="461" y="352" width="1" height="25" fill="#d9d9d9"/>
<rect x="462" y="352" width="1" height="25" fill="#d9d9d9"/>
<rect x="464" y="352" width="1" height="25" fill="#d9d9d9"/>
<rect x="465" y="352" width="1" height="25" fill="#d9d9d9"/>
<rect x="466" y="352" width="1" height="25" fill="#d9d9d9"/>
<rect x="467" y="352" width="1" height="25" fill="#d9d9d9"/>
<rect x="468" y="352" width="1" height="25" fill="#d9d9d9"/>
<rect x="469" y="352" width="1" height="25" fill="#d9d9d9"/>
<rect x="471" y="352" width="1" height="25" fill="#d9d9d9"/>
<rect x="472" y="352" width="1" height="25" fill="#d9d9d9"/>
<rect x="473" y="352" width="1" height="25" fill="#d9d9d9"/>
<rect x="474" y="352" width="1" height="25" fill="#d9d9d9"/>
<rect x="475" y="352" width="1" height="25" fill="#d9d9d9"/>
<rect x="477" y="352" width="1" height="25" fill="#d9d9d9"/>
<rect x="478" y="352" width="1" height="25" fill="#d9d9d9"/>
<rect x="479" y="352" width="1" height="25" fill="#d9d9d9"/>
<rect x="480" y="352" width="1" height="25" fill="#d9d9d9"/>
<rect x="481" y="352" width="1" height="25" fill="#d9d9d9"/>
<rect x="482" y="352" width="1" height="25" fill="#d9d9d9"/>
<rect x="484" y="352" width="1" height="25" fill="#d9d9d9"/>
<rect x="485" y="352" width="1" height="25" fill="#d9d9d9"/>
<rect x="486" y="352" width="1" height="25" fill="#d9d9d9"/>
<rect x="487" y="352" width="1" height="25" fill="#d9d9d9"/>
<rect x="488" y="352" width="1" height="25" fill="#d9d9d9"/>
<rect x="490" y="352" width="1" height="25" fill="#d9d9d9"/>
<rect x="491" y="352" width="1" height="25" fill="#d9d9d9"/>
<rect x="492" y="352" width="1" height="25" fill="#d9d9d9"/>
<rect x="493" y="352" width="1" height="25" fill="#d9d9d9"/>
<rect x="494" y="352" width="1" height="25" fill="#d9d9d9"/>
<rect x="495" y="352" width="1" height="25" fill="#d9d9d9"/>
<rect x="497" y="352" width="1" height="25" fill="#d9d9d9"/>
<rect x="498" y="352" width="1" height="25" fill="#d9d9d9"/>
<rect x="499" y="352" width="1" height="25" fill="#d9d9d9"/>
<rect x="500" y="352" width="1" height="25" fill="#d9d9d9"/>
<rect x="501" y="352" width="1" height="25" fill="#d9d9d9"/>
<rect x="503" y="352" width="1" height="25" fill="#d9d9d9"/>
<rect x="504" y="352" width="1" height="25" fill="#d9d9d9"/>
<rect x="505" y="352" width="1" height="25" fill="#d9d9d9"/>
<rect x="506" y="352" width="1" height="25" fill="#d9d9d9"/>
<rect x="507" y="352" width="1" height="25" fill="#d9d9d9"/>
<rect x="508" y="352" width="1" height="25" fill="#d9d9d9"/>
<rect x="510" y="352" width="1" height="25" fill="#d9d9d9"/>
<rect x="511" y="352" width="1" height="25" fill="#d9d9d9"/>
<rect x="512" y="352" width="1" height="25" fill="#d9d9d9"/>
<rect x="513" y="352" width="1" height="25" fill="#d9d9d9"/>
<rect x="514" y="352" width="1" height="25" fill="#d9d9d9"/>
<rect x="516" y="352" width="1" height="25" fill="#d9d9d9"/>
<rect x="517" y="352" width="1" height="25" fill="#d9d9d9"/>
<rect x="518" y="352" width="1" height="25" fill="#d9d9d9"/>
<rect x="519" y="352" width="1" height="25" fill="#d9d9d9"/>
<rect x="520" y="352" width="1" height="25" fill="#d9d9d9"/>
<rect x="522" y="352" width="1" height="25" fill="#d9d9d9"/>
<rect x="523" y="352" width="1" height="25" fill="#d9d9d9"/>
<rect x="524" y="352" width="1" height="25" fill="#d9d9d9"/>
<rect x="525" y="352" width="1" height="25" fill="#d9d9d9"/>
<rect x="526" y="352" width="1" height="25" fill="#d9d9d9"/>
<rect x="527" y="352" width="1" height="25" fill="#d9d9d9"/>
<rect x="529" y="352" width="1" height="25" fill="#d9d9d9"/>
<rect x="530" y="352" width="1" height="25" fill="#d9d9d9"/>
<rect x="531" y="352" width="1" height="25" fill="#d9d9d9"/>
<rect x="532" y="352" width="1" height="25" fill="#d9d9d9"/>
<rect x="533" y="352" width="1" height="25" fill="#d9d9d9"/>
<rect x="535" y="352" width="1" height="25" fill="#d9d9d9"/>
<rect x="536" y="352" width="1" height="25" fill="#d9d9d9"/>
<rect x="537" y="352" width="1" height="25" fill="#d9d9d9"/>
<rect x="538" y="352" width="1" height="25" fill="#d9d9d9"/>
<rect x="539" y="352" width="1" height="25" fill="#d9d9d9"/>
<rect x="540" y="352" width="1" height="25" fill="#d9d9d9"/>
<rect x="542" y="352" width="1" height="25" fill="#d9d9d9"/>
<rect x="543" y="352" width="1" height="25" fill="#d9d9d9"/>
<rect x="544" y="352" width="1" height="25" fill="#d9d9d9"/>
<rect x="545" y="352" width="1" height="25" fill="#d9d9d9"/>
<rect x="546" y="352" width="1" height="25" fill="#d9d9d9"/>
<rect x="548" y="352" width="1" height="25" fill="#d9d9d9"/>
<rect x="549" y="352" width="1" height="25" fill="#d9d9d9"/>
<rect x="550" y="352" width="1" height="25" fill="#d9d9d9"/>
<rect x="551" y="352" width="1" height="25" fill="#d9d9d9"/>
<rect x="552" y="352" width="1" height="25" fill="#d9d9d9"/>
<rect x="553" y="352" width="1" height="25" fill="#d9d9d9"/>
<rect x="555" y="352" width="1" height="25" fill="#d9d9d9"/>
<rect x="556" y="352" width="1" height="25" fill="#d9d9d9"/>
<rect x="557" y="352" width="1" height="25" fill="#d9d9d9"/>
<rect x="558" y="352" width="1" height="25" fill="#d9d9d9"/>
<rect x="559" y="352" width="1" height="25" fill="#d9d9d9"/>
<rect x="561" y="352" width="1" height="25" fill="#d9d9d9"/>
<rect x="562" y="352" width="1" height="25" fill="#d9d9d9"/>
<rect x="563" y="352" width="1" height="25" fill="#d9d9d9"/>
<rect x="564" y="352" width="1" height="25" fill="#d9d9d9"/>
<rect x="565" y="352" width="1" height="25" fill="#d9d9d9"/>
<rect x="566" y="352" width="1" height="25" fill="#d9d9d9"/>
<rect x="568" y="352" width="1" height="25" fill="#d9d9d9"/>
<rect x="569" y="352" width="1" height="25" fill="#d9d9d9"/>
<rect x="570" y="352" width="1" height="25" fill="#d9d9d9"/>
<rect x="571" y="352" width="1" height="25" fill="#d9d9d9"/>
<rect x="572" y="352" width="1" height="25" fill="#d9d9d9"/>
<rect x="574" y="352" width="1" height="25" fill="#d9d9d9"/>
<rect x="575" y="352" width="1" height="25" fill="#d9d9d9"/>
<rect x="576" y="352" width="1" height="25" fill="#d9d9d9"/>
<rect x="577" y="352" width="1" height="25" fill="#d9d9d9"/>
<rect x="578" y="352" width="1" height="25" fill="#d9d9d9"/>
<rect x="580" y="352" width="1" height="25" fill="#d9d9d9"/>
<rect x="581" y="352" width="1" height="25" fill="#d9d9d9"/>
<rect x="582" y="352" width="1" height="25" fill="#d9d9d9"/>
<rect x="583" y="352" width="1" height="25" fill="#d9d9d9"/>
<rect x="584" y="352" width="1" height="25" fill="#d9d9d9"/>
<rect x="585" y="352" width="1" height="25" fill="#d9d9d9"/>
<rect x="587" y="352" width="1" height="25" fill="#d9d9d9"/>
<rect x="588" y="352" width="1" height="25" fill="#d9d9d9"/>
<rect x="589" y="352" width="1" height="25" fill="#d9d9d9"/>
<rect x="590" y="352" width="1" height="25" fill="#d9d9d9"/>
<rect x="591" y="352" width="1" height="25" fill="#d9d9d9"/>
<rect x="593" y="352" width="1" height="25" fill="#d9d9d9"/>
<rect x="594" y="352" width="1" height="25" fill="#d9d9d9"/>
<rect x="595" y="352" width="1" height="25" fill="#d9d9d9"/>
<rect x="596" y="352" width="1" height="25" fill="#d9d9d9"/>
<rect x="597" y="352" width="1" height="25" fill="#d9d9d9"/>
<rect x="598" y="352" width="1" height="25" fill="#d9d9d9"/>
<rect x="600" y="352" width="1" height="25" fill="#d9d9d9"/>
<rect x="601" y="352" width="1" height="25" fill="#d9d9d9"/>
<rect x="602" y="352" width="1" height="25" fill="#d9d9d9"/>
<rect x="603" y="352" width="1" height="25" fill="#d9d9d9"/>
<rect x="604" y="352" width="1" height="25" fill="#d9d9d9"/>
<rect x="606" y="352" width="1" height="25" fill="#d9d9d9"/>
<rect x="607" y="352" width="1" height="25" fill="#d9d9d9"/>
<rect x="608" y="352" width="1" height="25" fill="#d9d9d9"/>
<rect x="609" y="352" width="1" height="25" fill="#d9d9d9"/>
<rect x="610" y="352" width="1" height="25" fill="#d9d9d9"/>
<rect x="611" y="352" width="1" height="25" fill="#d9d9d9"/>
<rect x="613" y="352" width="1" height="25" fill="#d9d9d9"/>
<rect x="614" y="352" width="1" height="25" fill="#d9d9d9"/>
<rect x="615" y="352" width="1" height="25" fill="#d9d9d9"/>
<rect x="616" y="352" width="1" height="25" fill="#d9d9d9"/>
<rect x="617" y="352" width="1" height="25" fill="#d9d9d9"/>
<rect x="619" y="352" width="1" height="25" fill="#d9d9d9"/>
<rect x="620" y="352" width="1" height="25" fill="#d9d9d9"/>
<rect x="621" y="352" width="1" height="25" fill="#d9d9d9"/>
<rect x="622" y="352" width="1" height="25" fill="#d9d9d9"/>
<rect x="623" y="352" width="1" height="25" fill="#d9d9d9"/>
<rect x="625" y="352" width="1" height="25" fill="#d9d9d9"/>
<rect x="626" y="352" width="1" height="25" fill="#d9d9d9"/>
<rect x="627" y="352" width="1" height="25" fill="#d9d9d9"/>
<rect x="628" y="352" width="1" height="25" fill="#d9d9d9"/>
<rect x="629" y="352" width="1" height="25" fill="#d9d9d9"/>
<rect x="630" y="352" width="1" height="25" fill="#d9d9d9"/>
<rect x="632" y="352" width="1" height="25" fill="#d9d9d9"/>
<rect x="633" y="352" width="1" height="25" fill="#d9d9d9"/>
<rect x="634" y="352" width="1" height="25" fill="#d9d9d9"/>
<rect x="635" y="352" width="1" height="25" fill="#d9d9d9"/>
<rect x="636" y="352" width="1" height="25" fill="#d9d9d9"/>
<rect x="638" y="352" width="1" height="25" fill="#d9d9d9"/>
<rect x="639" y="352" width="1" height="25" fill="#d9d9d9"/>
<rect x="640" y="352" width="1" height="25" fill="#d9d9d9"/>
<rect x="641" y="352" width="1" height="25" fill="#d9d9d9"/>
<rect x="642" y="352" width="1" height="25" fill="#d9d9d9"/>
<rect x="643" y="352" width="1" height="25" fill="#d9d9d9"/>
<rect x="645" y="352" width="1" height="25" fill="#d9d9d9"/>
<rect x="646" y="352" width="1" height="25" fill="#d9d9d9"/>
<rect x="647" y="352" width="1" height="25" fill="#d9d9d9"/>
<rect x="648" y="352" width="1" height="25" fill="#d9d9d9"/>
<rect x="649" y="352" width="1" height="25" fill="#d9d9d9"/>
<rect x="651" y="352" width="1" height="25" fill="#d9d9d9"/>
<rect x="652" y="352" width="1" height="25" fill="#d9d9d9"/>
<rect x="653" y="352" width="1" height="25" fill="#d9d9d9"/>
<rect x="654" y="352" width="1" height="25" fill="#d9d9d9"/>
<rect x="655" y="352" width="1" height="25" fill="#d9d9d9"/>
<rect x="656" y="352" width="1" height="25" fill="#d9d9d9"/>
<rect x="658" y="352" width="1" height="25" fill="#d9d9d9"/>
<rect x="659" y="352" width="1" height="25" fill="#d9d9d9"/>
<rect x="660" y="352" width="1" height="25" fill="#d9d9d9"/>
<rect x="661" y="352" width="1" height="25" fill="#d9d9d9"/>
<rect x="662" y="352" width="1" height="25" fill="#d9d9d9"/>
<rect x="664" y="352" width="1" height="25" fill="#d9d9d9"/>
<rect x="665" y="352" width="1" height="25" fill="#d9d9d9"/>
<rect x="666" y="352" width="1" height="25" fill="#d9d9d9"/>
<rect x="667" y="352" width="1" height="25" fill="#d9d9d9"/>
<rect x="668" y="352" width="1" height="25" fill="#d9d9d9"/>
<rect x="669" y="352" width="1" height="25" fill="#d9d9d9"/>
<rect x="671" y="352" width="1" height="25" fill="#d9d9d9"/>
<rect x="672" y="352" width="1" height="25" fill="#d9d9d9"/>
<rect x="673" y="352" width="1" height="25" fill="#d9d9d9"/>
<rect x="674" y="352" width="1" height="25" fill="#d9d9d9"/>
<rect x="675" y="352" width="1" height="25" fill="#d9d9d9"/>
<rect x="677" y="352" width="1" height="25" fill="#d9d9d9"/>
<rect x="678" y="352" width="1" height="25" fill="#d9d9d9"/>
<rect x="679" y="352" width="1" height="25" fill="#d9d9d9"/>
<rect x="680" y="352" width="1" height="25" fill="#d9d9d9"/>
<rect x="681" y="352" width="1" height="25" fill="#d9d9d9"/>
<rect x="683" y="352" width="1" height="25" fill="#d9d9d9"/>
<rect x="684" y="352" width="1" height="25" fill="#d9d9d9"/>
<rect x="685" y="352" width="1" height="25" fill="#d9d9d9"/>
<rect x="686" y="352" width="1" height="25" fill="#d9d9d9"/>
<rect x="687" y="352" width="1" height="25" fill="#d9d9d9"/>
<rect x="688" y="352" width="1" height="25" fill="#d9d9d9"/>
<rect x="690" y="352" width="1" height="25" fill="#d9d9d9"/>
<rect x="691" y="352" width="1" height="25" fill="#d9d9d9"/>
<rect x="692" y="352" width="1" height="25" fill="#d9d9d9"/>
<rect x="693" y="352" width="1" height="25" fill="#d9d9d9"/>
<rect x="694" y="352" width="1" height="25" fill="#d9d9d9"/>
<rect x="696" y="352" width="1" height="25" fill="#d9d9d9"/>
<rect x="697" y="352" width="1" height="25" fill="#d9d9d9"/>
<rect x="698" y="352" width="1" height="25" fill="#d9d9d9"/>
<rect x="699" y="352" width="1" height="25" fill="#d9d9d9"/>
<rect x="700" y="352" width="1" height="25" fill="#d9d9d9"/>
<rect x="701" y="352" width="1" height="25" fill="#d9d9d9"/>
<rect x="703" y="352" width="1" height="25" fill="#d9d9d9"/>
<rect x="704" y="352" width="1" height="25" fill="#d9d9d9"/>
<rect x="705" y="352" width="1" height="25" fill="#d9d9d9"/>
<rect x="706" y="352" width="1" height="25" fill="#d9d9d9"/>
<rect x="707" y="352" width="1" height="25" fill="#d9d9d9"/>
<rect x="709" y="352" width="1" height="25" fill="#d9d9d9"/>
<rect x="710" y="352" width="1" height="25" fill="#d9d9d9"/>
<rect x="711" y="352" width="1" height="25" fill="#d9d9d9"/>
<rect x="712" y="352" width="1" height="25" fill="#d9d9d9"/>
<rect x="713" y="352" width="1" height="25" fill="#d9d9d9"/>
<rect x="714" y="352" width="1" height="25" fill="#d9d9d9"/>
<rect x="716" y="352" width="1" height="25" fill="#d9d9d9"/>
<rect x="717" y="352" width="1" height="25" fill="#d9d9d9"/>
<rect x="718" y="352" width="1" height="25" fill="#d9d9d9"/>
<rect x="719" y="352" width="1" height="25" fill="#d9d9d9"/>
<rect x="720" y="352" width="1" height="25" fill="#d9d9d9"/>
<rect x="722" y="352" width="1" height="25" fill="#d9d9d9"/>
<rect x="723" y="352" width="1" height="25" fill="#d9d9d9"/>
<rect x="724" y="352" width="1" height="25" fill="#d9d9d9"/>
<rect x="725" y="352" width="1" height="25" fill="#d9d9d9"/>
<rect x="726" y="352" width="1" height="25" fill="#d9d9d9"/>
<rect x="727" y="352" width="1" height="25" fill="#d9d9d9"/>
<rect x="729" y="352" width="1" height="25" fill="#d9d9d9"/>
<rect x="730" y="352" width="1" height="25" fill="#d9d9d9"/>
<rect x="731" y="352" width="1" height="25" fill="#d9d9d9"/>
<rect x="732" y="352" width="1" height="25" fill="#d9d9d9"/>
<rect x="733" y="352" width="1" height="25" fill="#d9d9d9"/>
<rect x="735" y="352" width="1" height="25" fill="#d9d9d9"/>
<rect x="736" y="352" width="1" height="25" fill="#d9d9d9"/>
<rect x="737" y="352" width="1" height="25" fill="#d9d9d9"/>
<rect x="738" y="352" width="1" height="25" fill="#d9d9d9"/>
<rect x="739" y="352" width="1" height="25" fill="#d9d9d9"/>
<rect x="741" y="352" width="1" height="25" fill="#d9d9d9"/>
<rect x="742" y="352" width="1" height="25" fill="#d9d9d9"/>
<rect x="743" y="352" width="1" height="25" fill="#d9d9d9"/>
<rect x="744" y="352" width="1" height="25" fill="#d9d9d9"/>
<rect x="745" y="352" width="1" height="25" fill="#d9d9d9"/>
<rect x="55" y="380" width="695" height="1" fill="#b4b4b4"/>
<rect x="66" y="352" width="1" height="51" fill="#c8c8c8"/>
<rect x="105" y="352" width="1" height="51" fill="#c8c8c8"/>
<rect x="166" y="352" width="1" height="51" fill="#c8c8c8"/>
<rect x="228" y="352" width="1" height="51" fill="#c8c8c8"/>
<rect x="289" y="352" width="1" height="51" fill="#c8c8c8"/>
<rect x="351" y="352" width="1" height="51" fill="#c8c8c8"/>
<rect x="414" y="352" width="1" height="51" fill="#c8c8c8"/>
<rect x="475" y="352" width="1" height="51" fill="#c8c8c8"/>
<rect x="537" y="352" width="1" height="51" fill="#c8c8c8"/>
<rect x="598" y="352" width="1" height="51" fill="#c8c8c8"/>
<rect x="660" y="352" width="1" height="51" fill="#c8c8c8"/>
<rect x="721" y="352" width="1" height="51" fill="#c8c8c8"/>
<rect x="745" y="352" width="1" height="51" fill="#c8c8c8"/>
</g>
<text x="59.14" y="372.80" font-size="12" textLength="12.19" lengthAdjust="spacingAndGlyphs">21</text>
<text x="74.59" y="372.80" font-size="12" textLength="14.26" lengthAdjust="spacingAndGlyphs">34</text>
<text x="90.17" y="372.80" font-size="12" textLength="14.34" lengthAdjust="spacingAndGlyphs">47</text>
<text x="108.88" y="372.80" font-size="12" textLength="7.34" lengthAdjust="spacingAndGlyphs">7</text>
<text x="120.59" y="372.80" font-size="12" textLength="14.57" lengthAdjust="spacingAndGlyphs">20</text>
<text x="136.14" y="372.80" font-size="12" textLength="14.47" lengthAdjust="spacingAndGlyphs">33</text>
<text x="151.73" y="372.80" font-size="12" textLength="14.26" lengthAdjust="spacingAndGlyphs">46</text>
<text x="170.44" y="372.80" font-size="12" textLength="7.34" lengthAdjust="spacingAndGlyphs">7</text>
<text x="182.15" y="372.80" font-size="12" textLength="14.57" lengthAdjust="spacingAndGlyphs">20</text>
<text x="197.70" y="372.80" font-size="12" textLength="14.47" lengthAdjust="spacingAndGlyphs">33</text>
<text x="213.29" y="372.80" font-size="12" textLength="14.26" lengthAdjust="spacingAndGlyphs">46</text>
<text x="232.00" y="372.80" font-size="12" textLength="7.34" lengthAdjust="spacingAndGlyphs">7</text>
<text x="243.71" y="372.80" font-size="12" textLength="14.57" lengthAdjust="spacingAndGlyphs">20</text>
<text x="259.26" y="372.80" font-size="12" textLength="14.47" lengthAdjust="spacingAndGlyphs">33</text>
<text x="274.85" y="372.80" font-size="12" textLength="14.26" lengthAdjust="spacingAndGlyphs">46</text>
<text x="293.56" y="372.80" font-size="12" textLength="7.34" lengthAdjust="spacingAndGlyphs">7</text>
<text x="305.26" y="372.80" font-size="12" textLength="14.57" lengthAdjust="spacingAndGlyphs">20</text>
<text x="320.82" y="372.80" font-size="12" textLength="14.47" lengthAdjust="spacingAndGlyphs">33</text>
<text x="336.41" y="372.80" font-size="12" textLength="14.26" lengthAdjust="spacingAndGlyphs">46</text>
<text x="355.11" y="372.80" font-size="12" textLength="7.34" lengthAdjust="spacingAndGlyphs">7</text>
<text x="366.82" y="372.80" font-size="12" textLength="14.57" lengthAdjust="spacingAndGlyphs">20</text>
<text x="382.37" y="372.80" font-size="12" textLength="14.47" lengthAdjust="spacingAndGlyphs">33</text>
<text x="397.96" y="372.80" font-size="12" textLength="14.26" lengthAdjust="spacingAndGlyphs">46</text>
<text x="416.69" y="372.80" font-size="12" textLength="7.23" lengthAdjust="spacingAndGlyphs">6</text>
<text x="430.16" y="372.80" font-size="12" textLength="12.82" lengthAdjust="spacingAndGlyphs">19</text>
<text x="443.93" y="372.80" font-size="12" textLength="14.56" lengthAdjust="spacingAndGlyphs">32</text>
<text x="459.52" y="372.80" font-size="12" textLength="14.23" lengthAdjust="spacingAndGlyphs">45</text>
<text x="478.24" y="372.80" font-size="12" textLength="7.23" lengthAdjust="spacingAndGlyphs">6</text>
<text x="491.72" y="372.80" font-size="12" textLength="12.82" lengthAdjust="spacingAndGlyphs">19</text>
<text x="505.49" y="372.80" font-size="12" textLength="14.56" lengthAdjust="spacingAndGlyphs">32</text>
<text x="521.08" y="372.80" font-size="12" textLength="14.23" lengthAdjust="spacingAndGlyphs">45</text>
<text x="539.80" y="372.80" font-size="12" textLength="7.23" lengthAdjust="spacingAndGlyphs">6</text>
<text x="553.27" y="372.80" font-size="12" textLength="12.82" lengthAdjust="spacingAndGlyphs">19</text>
<text x="567.04" y="372.80" font-size="12" textLength="14.56" lengthAdjust="spacingAndGlyphs">32</text>
<text x="582.64" y="372.80" font-size="12" textLength="14.23" lengthAdjust="spacingAndGlyphs">45</text>
<text x="601.36" y="372.80" font-size="12" textLength="7.23" lengthAdjust="spacingAndGlyphs">6</text>
<text x="614.83" y="372.80" font-size="12" textLength="12.82" lengthAdjust="spacingAndGlyphs">19</text>
<text x="628.60" y="372.80" font-size="12" textLength="14.56" lengthAdjust="spacingAndGlyphs">32</text>
<text x="644.19" y="372.80" font-size="12" textLength="14.23" lengthAdjust="spacingAndGlyphs">45</text>
<text x="662.92" y="372.80" font-size="12" textLength="7.23" lengthAdjust="spacingAndGlyphs">6</text>
<text x="676.39" y="372.80" font-size="12" textLength="12.82" lengthAdjust="spacingAndGlyphs">19</text>
<text x="690.16" y="372.80" font-size="12" textLength="14.56" lengthAdjust="spacingAndGlyphs">32</text>
<text x="705.75" y="372.80" font-size="12" textLength="14.23" lengthAdjust="spacingAndGlyphs">45</text>
<text x="724.47" y="372.80" font-size="12" textLength="7.23" lengthAdjust="spacingAndGlyphs">6</text>
<text x="737.95" y="372.80" font-size="12" textLength="12.82" lengthAdjust="spacingAndGlyphs">19</text>
<text x="28.19" y="372.80" font-size="12.5" textLength="26.35" lengthAdjust="spacingAndGlyphs">Uge</text>
<text x="70.66" y="398.70" font-size="12.3" textLength="29.63" lengthAdjust="spacingAndGlyphs">2015</text>
<text x="120.97" y="398.70" font-size="12.3" textLength="29.66" lengthAdjust="spacingAndGlyphs">2016</text>
<text x="182.53" y="398.70" font-size="12.3" textLength="29.74" lengthAdjust="spacingAndGlyphs">2017</text>
<text x="244.09" y="398.70" font-size="12.3" textLength="29.65" lengthAdjust="spacingAndGlyphs">2018</text>
<text x="305.65" y="398.70" font-size="12.3" textLength="29.70" lengthAdjust="spacingAndGlyphs">2019</text>
<text x="367.80" y="398.70" font-size="12.3" textLength="29.59" lengthAdjust="spacingAndGlyphs">2020</text>
<text x="429.94" y="398.70" font-size="12.3" textLength="29.72" lengthAdjust="spacingAndGlyphs">2021</text>
<text x="491.50" y="398.70" font-size="12.3" textLength="29.74" lengthAdjust="spacingAndGlyphs">2022</text>
<text x="553.06" y="398.70" font-size="12.3" textLength="29.66" lengthAdjust="spacingAndGlyphs">2023</text>
<text x="614.62" y="398.70" font-size="12.3" textLength="29.45" lengthAdjust="spacingAndGlyphs">2024</text>
<text x="676.18" y="398.70" font-size="12.3" textLength="29.63" lengthAdjust="spacingAndGlyphs">2025</text>
<text x="718.79" y="398.70" font-size="12.3" textLength="29.66" lengthAdjust="spacingAndGlyphs">2026</text>
</svg></body></html>
